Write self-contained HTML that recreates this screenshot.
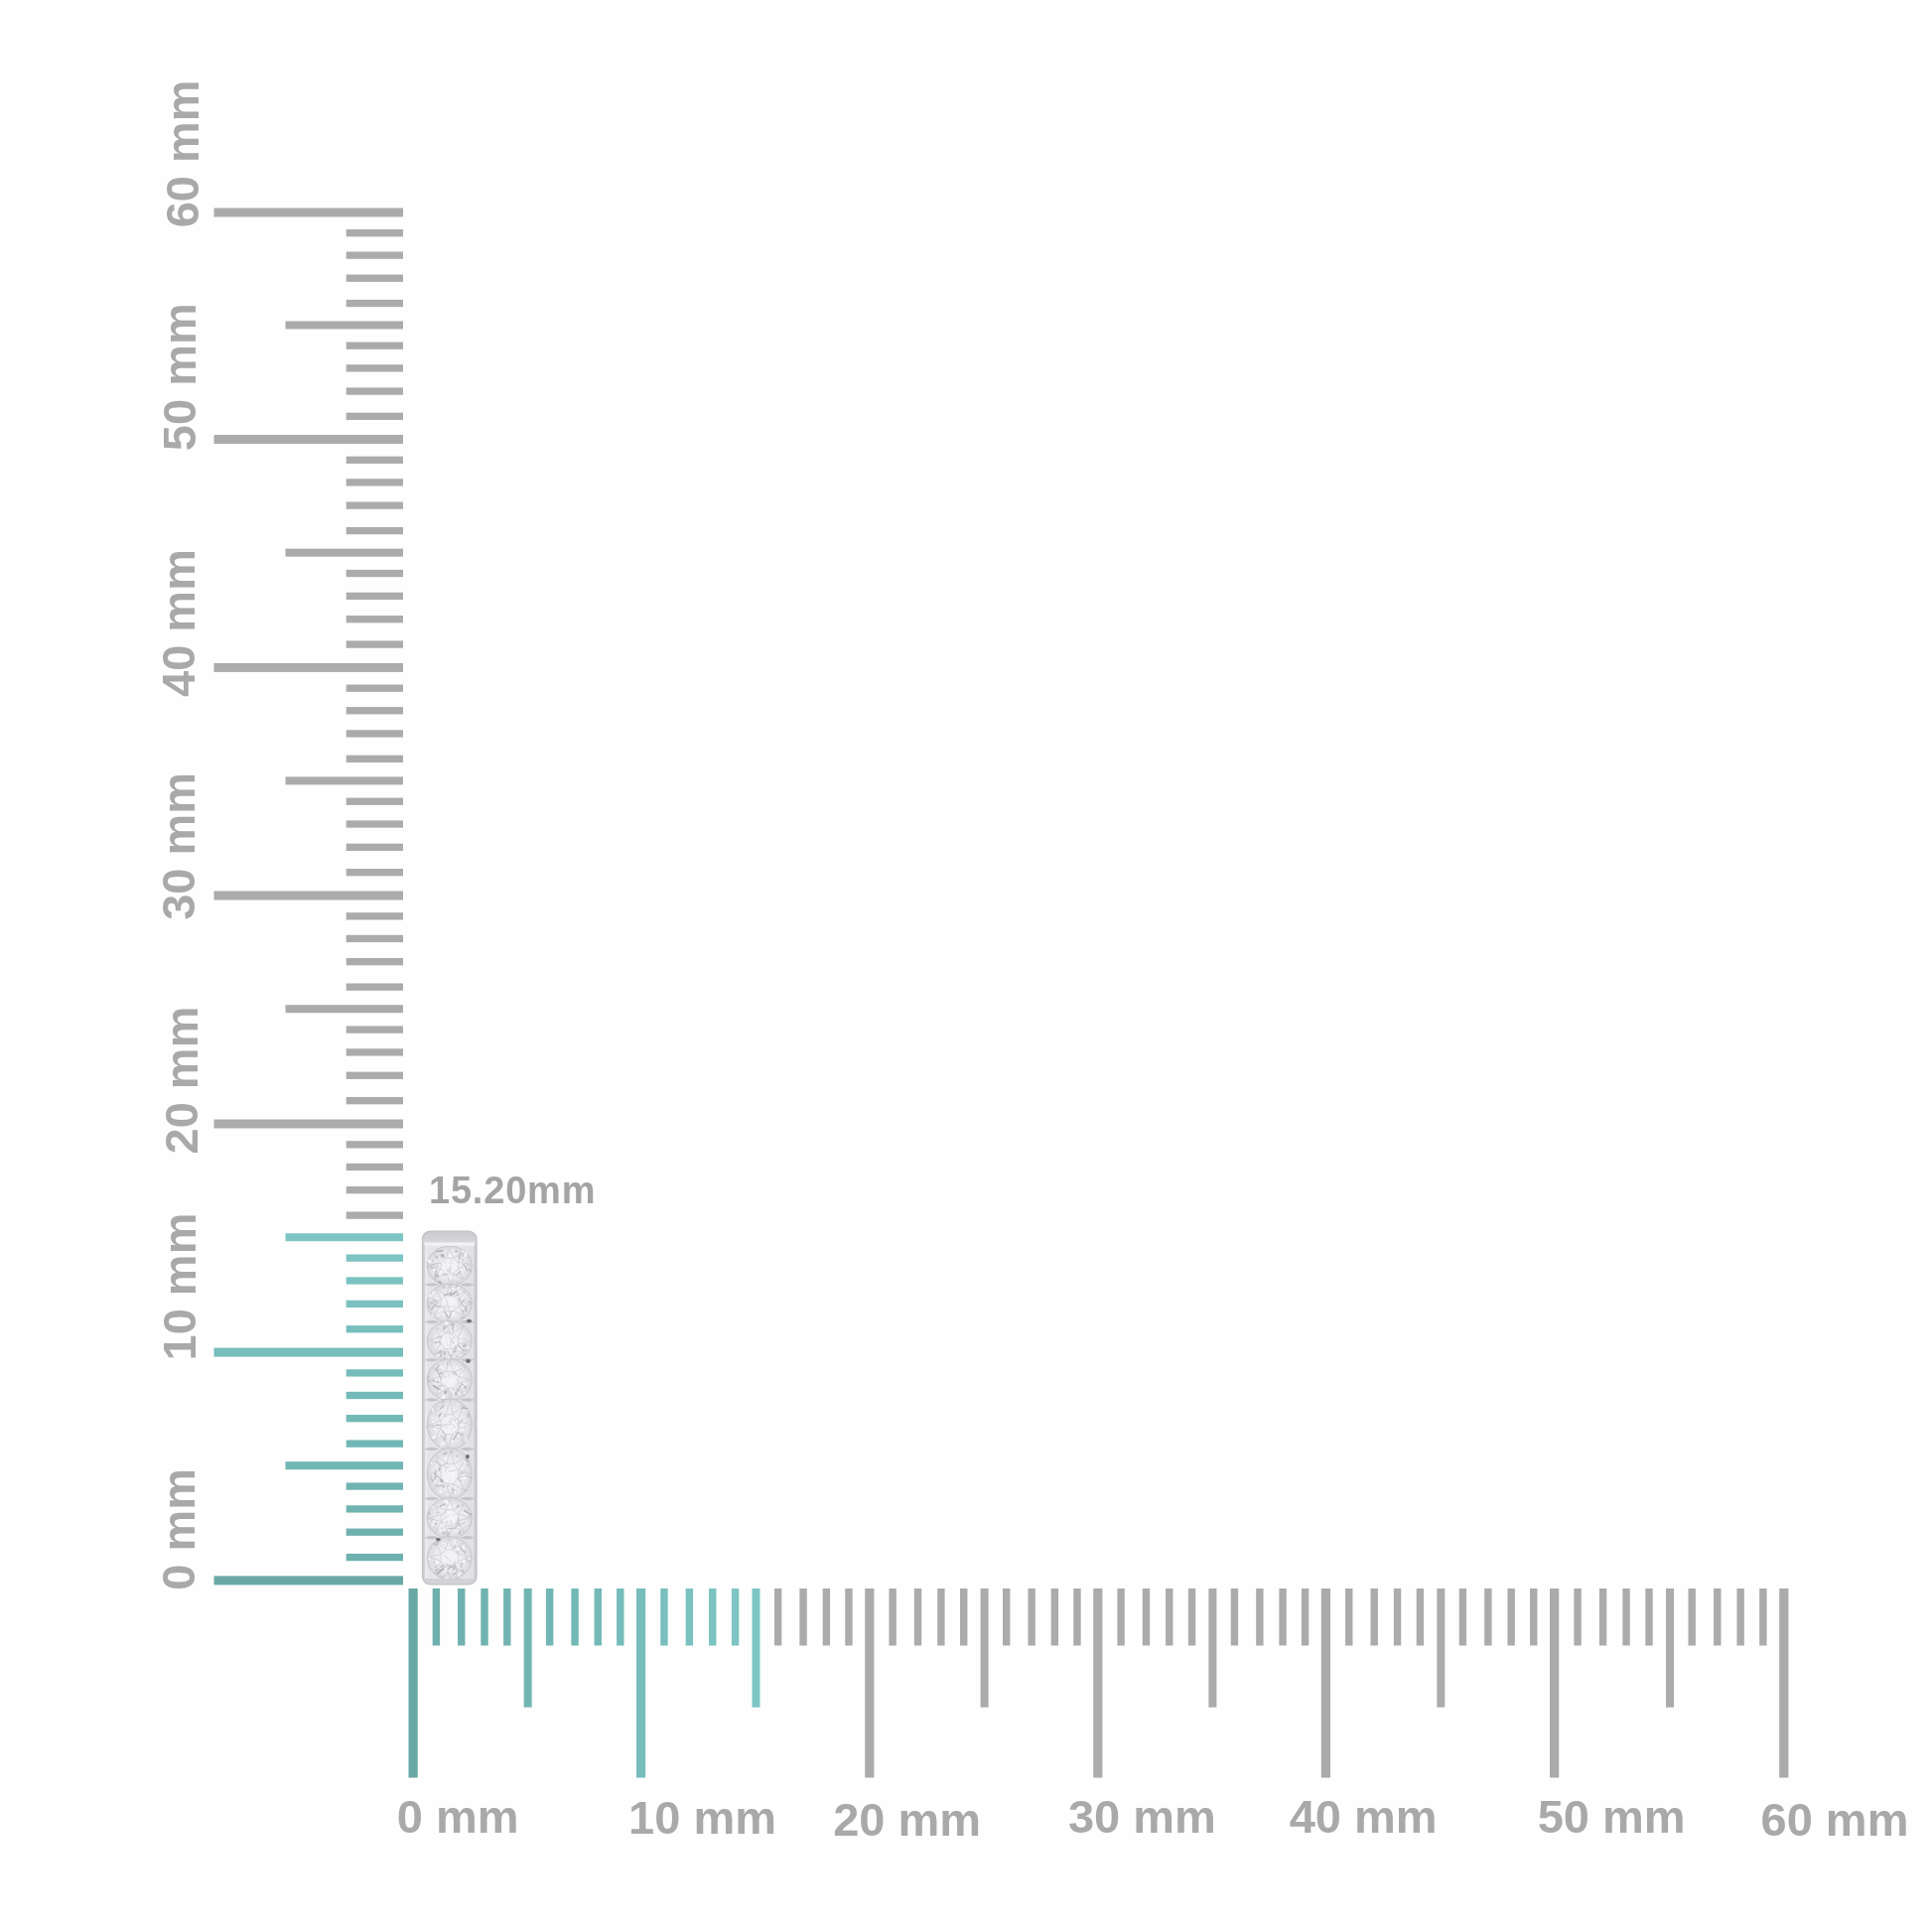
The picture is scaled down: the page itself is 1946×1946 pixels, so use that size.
<!DOCTYPE html>
<html><head><meta charset="utf-8"><style>
html,body{margin:0;padding:0;background:#fefefe;width:1946px;height:1946px;overflow:hidden}
svg{display:block;filter:blur(0.45px)}
.lb{font-family:"Liberation Sans",sans-serif;font-weight:bold;font-size:47px;fill:#a9a9a9}
.mono{font-family:"Liberation Sans",sans-serif;font-weight:bold;font-size:38px;letter-spacing:0.8px;fill:#a4a4a4}
</style></head><body>
<svg width="1946" height="1946" viewBox="0 0 1946 1946">
<rect width="1946" height="1946" fill="#fefefe"/>
<rect x="215.5" y="1587.40" width="190.5" height="9.0" fill="#6aa8a5"/>
<rect x="348.7" y="1564.93" width="57.3" height="7.3" fill="#6eb0ad"/>
<rect x="348.7" y="1539.56" width="57.3" height="7.3" fill="#6fb1af"/>
<rect x="348.7" y="1516.24" width="57.3" height="7.3" fill="#70b3b0"/>
<rect x="348.7" y="1493.42" width="57.3" height="7.3" fill="#71b4b2"/>
<rect x="287.5" y="1472.20" width="118.5" height="8.0" fill="#71b6b3"/>
<rect x="348.7" y="1450.48" width="57.3" height="7.3" fill="#72b7b5"/>
<rect x="348.7" y="1425.06" width="57.3" height="7.3" fill="#73b9b6"/>
<rect x="348.7" y="1401.84" width="57.3" height="7.3" fill="#74bab8"/>
<rect x="348.7" y="1379.27" width="57.3" height="7.3" fill="#75bcba"/>
<rect x="215.5" y="1357.60" width="190.5" height="9.0" fill="#77bdbc"/>
<rect x="348.7" y="1335.10" width="57.3" height="7.3" fill="#78bfbe"/>
<rect x="348.7" y="1309.69" width="57.3" height="7.3" fill="#7ac1bf"/>
<rect x="348.7" y="1286.34" width="57.3" height="7.3" fill="#7bc3c1"/>
<rect x="348.7" y="1263.49" width="57.3" height="7.3" fill="#7dc4c3"/>
<rect x="287.5" y="1242.25" width="118.5" height="8.0" fill="#7ec6c5"/>
<rect x="348.7" y="1220.50" width="57.3" height="7.3" fill="#ababab"/>
<rect x="348.7" y="1195.04" width="57.3" height="7.3" fill="#ababab"/>
<rect x="348.7" y="1171.79" width="57.3" height="7.3" fill="#ababab"/>
<rect x="348.7" y="1149.20" width="57.3" height="7.3" fill="#ababab"/>
<rect x="215.5" y="1127.50" width="190.5" height="9.0" fill="#ababab"/>
<rect x="348.7" y="1105.01" width="57.3" height="7.3" fill="#ababab"/>
<rect x="348.7" y="1079.62" width="57.3" height="7.3" fill="#ababab"/>
<rect x="348.7" y="1056.27" width="57.3" height="7.3" fill="#ababab"/>
<rect x="348.7" y="1033.43" width="57.3" height="7.3" fill="#ababab"/>
<rect x="287.5" y="1012.20" width="118.5" height="8.0" fill="#ababab"/>
<rect x="348.7" y="990.46" width="57.3" height="7.3" fill="#ababab"/>
<rect x="348.7" y="965.02" width="57.3" height="7.3" fill="#ababab"/>
<rect x="348.7" y="941.78" width="57.3" height="7.3" fill="#ababab"/>
<rect x="348.7" y="919.19" width="57.3" height="7.3" fill="#ababab"/>
<rect x="215.5" y="897.50" width="190.5" height="9.0" fill="#ababab"/>
<rect x="348.7" y="875.05" width="57.3" height="7.3" fill="#ababab"/>
<rect x="348.7" y="849.70" width="57.3" height="7.3" fill="#ababab"/>
<rect x="348.7" y="826.40" width="57.3" height="7.3" fill="#ababab"/>
<rect x="348.7" y="803.60" width="57.3" height="7.3" fill="#ababab"/>
<rect x="287.5" y="782.40" width="118.5" height="8.0" fill="#ababab"/>
<rect x="348.7" y="760.70" width="57.3" height="7.3" fill="#ababab"/>
<rect x="348.7" y="735.30" width="57.3" height="7.3" fill="#ababab"/>
<rect x="348.7" y="712.10" width="57.3" height="7.3" fill="#ababab"/>
<rect x="348.7" y="689.55" width="57.3" height="7.3" fill="#ababab"/>
<rect x="215.5" y="667.90" width="190.5" height="9.0" fill="#ababab"/>
<rect x="348.7" y="645.42" width="57.3" height="7.3" fill="#ababab"/>
<rect x="348.7" y="620.04" width="57.3" height="7.3" fill="#ababab"/>
<rect x="348.7" y="596.71" width="57.3" height="7.3" fill="#ababab"/>
<rect x="348.7" y="573.88" width="57.3" height="7.3" fill="#ababab"/>
<rect x="287.5" y="552.65" width="118.5" height="8.0" fill="#ababab"/>
<rect x="348.7" y="530.92" width="57.3" height="7.3" fill="#ababab"/>
<rect x="348.7" y="505.49" width="57.3" height="7.3" fill="#ababab"/>
<rect x="348.7" y="482.26" width="57.3" height="7.3" fill="#ababab"/>
<rect x="348.7" y="459.68" width="57.3" height="7.3" fill="#ababab"/>
<rect x="215.5" y="438.00" width="190.5" height="9.0" fill="#ababab"/>
<rect x="348.7" y="415.66" width="57.3" height="7.3" fill="#ababab"/>
<rect x="348.7" y="390.43" width="57.3" height="7.3" fill="#ababab"/>
<rect x="348.7" y="367.24" width="57.3" height="7.3" fill="#ababab"/>
<rect x="348.7" y="344.55" width="57.3" height="7.3" fill="#ababab"/>
<rect x="287.5" y="323.45" width="118.5" height="8.0" fill="#ababab"/>
<rect x="348.7" y="301.86" width="57.3" height="7.3" fill="#ababab"/>
<rect x="348.7" y="276.58" width="57.3" height="7.3" fill="#ababab"/>
<rect x="348.7" y="253.49" width="57.3" height="7.3" fill="#ababab"/>
<rect x="348.7" y="231.05" width="57.3" height="7.3" fill="#ababab"/>
<rect x="215.5" y="209.50" width="190.5" height="9.0" fill="#ababab"/>
<rect x="411.50" y="1600.0" width="9.2" height="190.6" fill="#6aa8a5"/>
<rect x="435.69" y="1600.0" width="7.4" height="57.5" fill="#6eb0ad"/>
<rect x="461.03" y="1600.0" width="7.4" height="57.5" fill="#6fb1af"/>
<rect x="484.32" y="1600.0" width="7.4" height="57.5" fill="#70b3b0"/>
<rect x="507.11" y="1600.0" width="7.4" height="57.5" fill="#71b4b2"/>
<rect x="527.65" y="1600.0" width="8.0" height="119.7" fill="#71b6b3"/>
<rect x="549.99" y="1600.0" width="7.4" height="57.5" fill="#72b7b5"/>
<rect x="575.38" y="1600.0" width="7.4" height="57.5" fill="#73b9b6"/>
<rect x="598.57" y="1600.0" width="7.4" height="57.5" fill="#74bab8"/>
<rect x="621.11" y="1600.0" width="7.4" height="57.5" fill="#75bcba"/>
<rect x="641.00" y="1600.0" width="9.2" height="190.6" fill="#77bdbc"/>
<rect x="665.26" y="1600.0" width="7.4" height="57.5" fill="#78bfbe"/>
<rect x="690.68" y="1600.0" width="7.4" height="57.5" fill="#7ac1bf"/>
<rect x="714.04" y="1600.0" width="7.4" height="57.5" fill="#7bc3c1"/>
<rect x="736.90" y="1600.0" width="7.4" height="57.5" fill="#7dc4c3"/>
<rect x="757.50" y="1600.0" width="8.0" height="119.7" fill="#7ec6c5"/>
<rect x="779.91" y="1600.0" width="7.4" height="57.5" fill="#ababab"/>
<rect x="805.38" y="1600.0" width="7.4" height="57.5" fill="#ababab"/>
<rect x="828.64" y="1600.0" width="7.4" height="57.5" fill="#ababab"/>
<rect x="851.25" y="1600.0" width="7.4" height="57.5" fill="#ababab"/>
<rect x="871.20" y="1600.0" width="9.2" height="190.6" fill="#ababab"/>
<rect x="895.44" y="1600.0" width="7.4" height="57.5" fill="#ababab"/>
<rect x="920.83" y="1600.0" width="7.4" height="57.5" fill="#ababab"/>
<rect x="944.18" y="1600.0" width="7.4" height="57.5" fill="#ababab"/>
<rect x="967.02" y="1600.0" width="7.4" height="57.5" fill="#ababab"/>
<rect x="987.60" y="1600.0" width="8.0" height="119.7" fill="#ababab"/>
<rect x="1009.99" y="1600.0" width="7.4" height="57.5" fill="#ababab"/>
<rect x="1035.43" y="1600.0" width="7.4" height="57.5" fill="#ababab"/>
<rect x="1058.67" y="1600.0" width="7.4" height="57.5" fill="#ababab"/>
<rect x="1081.26" y="1600.0" width="7.4" height="57.5" fill="#ababab"/>
<rect x="1101.20" y="1600.0" width="9.2" height="190.6" fill="#ababab"/>
<rect x="1125.40" y="1600.0" width="7.4" height="57.5" fill="#ababab"/>
<rect x="1150.75" y="1600.0" width="7.4" height="57.5" fill="#ababab"/>
<rect x="1174.05" y="1600.0" width="7.4" height="57.5" fill="#ababab"/>
<rect x="1196.85" y="1600.0" width="7.4" height="57.5" fill="#ababab"/>
<rect x="1217.40" y="1600.0" width="8.0" height="119.7" fill="#ababab"/>
<rect x="1239.75" y="1600.0" width="7.4" height="57.5" fill="#ababab"/>
<rect x="1265.15" y="1600.0" width="7.4" height="57.5" fill="#ababab"/>
<rect x="1288.35" y="1600.0" width="7.4" height="57.5" fill="#ababab"/>
<rect x="1310.90" y="1600.0" width="7.4" height="57.5" fill="#ababab"/>
<rect x="1330.80" y="1600.0" width="9.2" height="190.6" fill="#ababab"/>
<rect x="1355.06" y="1600.0" width="7.4" height="57.5" fill="#ababab"/>
<rect x="1380.48" y="1600.0" width="7.4" height="57.5" fill="#ababab"/>
<rect x="1403.84" y="1600.0" width="7.4" height="57.5" fill="#ababab"/>
<rect x="1426.70" y="1600.0" width="7.4" height="57.5" fill="#ababab"/>
<rect x="1447.30" y="1600.0" width="8.0" height="119.7" fill="#ababab"/>
<rect x="1469.71" y="1600.0" width="7.4" height="57.5" fill="#ababab"/>
<rect x="1495.18" y="1600.0" width="7.4" height="57.5" fill="#ababab"/>
<rect x="1518.44" y="1600.0" width="7.4" height="57.5" fill="#ababab"/>
<rect x="1541.05" y="1600.0" width="7.4" height="57.5" fill="#ababab"/>
<rect x="1561.00" y="1600.0" width="9.2" height="190.6" fill="#ababab"/>
<rect x="1585.36" y="1600.0" width="7.4" height="57.5" fill="#ababab"/>
<rect x="1610.89" y="1600.0" width="7.4" height="57.5" fill="#ababab"/>
<rect x="1634.35" y="1600.0" width="7.4" height="57.5" fill="#ababab"/>
<rect x="1657.31" y="1600.0" width="7.4" height="57.5" fill="#ababab"/>
<rect x="1678.01" y="1600.0" width="8.0" height="119.7" fill="#ababab"/>
<rect x="1700.51" y="1600.0" width="7.4" height="57.5" fill="#ababab"/>
<rect x="1726.09" y="1600.0" width="7.4" height="57.5" fill="#ababab"/>
<rect x="1749.45" y="1600.0" width="7.4" height="57.5" fill="#ababab"/>
<rect x="1772.16" y="1600.0" width="7.4" height="57.5" fill="#ababab"/>
<rect x="1792.20" y="1600.0" width="9.2" height="190.6" fill="#ababab"/>
<text transform="translate(196.4,1601.8) rotate(-90)" class="lb">0 mm</text>
<text transform="translate(197.3,1370.5) rotate(-90)" class="lb">10 mm</text>
<text transform="translate(199.2,1162.5) rotate(-90)" class="lb">20 mm</text>
<text transform="translate(196.4,926.8) rotate(-90)" class="lb">30 mm</text>
<text transform="translate(196.4,702.0) rotate(-90)" class="lb">40 mm</text>
<text transform="translate(197.3,454.2) rotate(-90)" class="lb">50 mm</text>
<text transform="translate(199.6,229.3) rotate(-90)" class="lb">60 mm</text>
<text x="399.7" y="1845.6" class="lb">0 mm</text>
<text x="633.1" y="1846.7" class="lb">10 mm</text>
<text x="839.2" y="1849.2" class="lb">20 mm</text>
<text x="1075.9" y="1845.6" class="lb">30 mm</text>
<text x="1298.7" y="1846.3" class="lb">40 mm</text>
<text x="1548.7" y="1846.3" class="lb">50 mm</text>
<text x="1773.5" y="1848.7" class="lb">60 mm</text>
<text x="432" y="1212" class="mono">15.20mm</text>
<defs>
<linearGradient id="barg" x1="0" x2="1" y1="0" y2="0">
<stop offset="0" stop-color="#c6c6cb"/><stop offset="0.09" stop-color="#e4e4e7"/>
<stop offset="0.5" stop-color="#ececef"/><stop offset="0.91" stop-color="#e0e0e4"/>
<stop offset="1" stop-color="#c4c4c9"/></linearGradient>
<radialGradient id="stg" cx="0.5" cy="0.5" r="0.5">
<stop offset="0" stop-color="#f5f5f7"/><stop offset="0.65" stop-color="#ebebee"/>
<stop offset="1" stop-color="#d9d9dd"/></radialGradient>
<linearGradient id="capg" x1="0" x2="0" y1="0" y2="1">
<stop offset="0" stop-color="#c9c9ce"/><stop offset="0.75" stop-color="#d3d3d8"/>
<stop offset="1" stop-color="#dadade"/></linearGradient>
<clipPath id="barclip"><rect x="425.5" y="1240.0" width="54.5" height="356.0" rx="8"/></clipPath>
</defs>
<g clip-path="url(#barclip)">
<rect x="425.5" y="1240.0" width="54.5" height="356.0" fill="url(#barg)"/>
<rect x="428.0" y="1254.0" width="2.5" height="336.0" fill="#eeeef0" opacity="0.8"/>
<rect x="475.0" y="1254.0" width="2" height="336.0" fill="#e6e6ea" opacity="0.7"/>
<ellipse cx="452.8" cy="1275.0" rx="22.5" ry="20.0" fill="url(#stg)" stroke="#c6c6cb" stroke-width="1"/>
<ellipse cx="437.5" cy="1279.2" rx="2.3" ry="0.8" transform="rotate(81 437.5 1279.2)" fill="#f7f7fb" opacity="0.85"/>
<ellipse cx="457.7" cy="1262.6" rx="1.3" ry="0.7" transform="rotate(17 457.7 1262.6)" fill="#f2f2f6" opacity="0.85"/>
<ellipse cx="459.3" cy="1260.3" rx="2.0" ry="1.2" transform="rotate(174 459.3 1260.3)" fill="#c3c3c7" opacity="0.85"/>
<ellipse cx="454.2" cy="1276.9" rx="2.4" ry="1.2" transform="rotate(6 454.2 1276.9)" fill="#f0f0f4" opacity="0.85"/>
<ellipse cx="454.9" cy="1264.3" rx="2.0" ry="1.1" transform="rotate(93 454.9 1264.3)" fill="#f3f3f7" opacity="0.85"/>
<ellipse cx="445.2" cy="1264.0" rx="2.3" ry="1.3" transform="rotate(179 445.2 1264.0)" fill="#cdcdd1" opacity="0.85"/>
<ellipse cx="448.7" cy="1283.4" rx="1.0" ry="0.7" transform="rotate(101 448.7 1283.4)" fill="#aeaeb2" opacity="0.85"/>
<ellipse cx="451.4" cy="1279.8" rx="2.5" ry="0.7" transform="rotate(38 451.4 1279.8)" fill="#aaaaae" opacity="0.85"/>
<ellipse cx="440.0" cy="1286.3" rx="2.2" ry="0.9" transform="rotate(113 440.0 1286.3)" fill="#f9f9fd" opacity="0.85"/>
<ellipse cx="463.3" cy="1280.7" rx="1.0" ry="1.3" transform="rotate(166 463.3 1280.7)" fill="#fcfcff" opacity="0.85"/>
<ellipse cx="467.3" cy="1275.9" rx="1.6" ry="0.8" transform="rotate(101 467.3 1275.9)" fill="#fafafe" opacity="0.85"/>
<ellipse cx="451.9" cy="1268.2" rx="2.6" ry="0.6" transform="rotate(71 451.9 1268.2)" fill="#f1f1f5" opacity="0.85"/>
<ellipse cx="466.7" cy="1260.9" rx="1.1" ry="1.6" transform="rotate(4 466.7 1260.9)" fill="#fefeff" opacity="0.85"/>
<ellipse cx="439.8" cy="1266.4" rx="1.3" ry="1.4" transform="rotate(38 439.8 1266.4)" fill="#b3b3b7" opacity="0.85"/>
<ellipse cx="447.3" cy="1284.1" rx="1.9" ry="0.6" transform="rotate(38 447.3 1284.1)" fill="#afafb3" opacity="0.85"/>
<ellipse cx="441.4" cy="1286.0" rx="1.0" ry="1.0" transform="rotate(150 441.4 1286.0)" fill="#c8c8cc" opacity="0.85"/>
<ellipse cx="444.5" cy="1267.4" rx="1.1" ry="1.2" transform="rotate(131 444.5 1267.4)" fill="#b9b9bd" opacity="0.85"/>
<ellipse cx="436.1" cy="1269.8" rx="1.6" ry="0.7" transform="rotate(109 436.1 1269.8)" fill="#c8c8cc" opacity="0.85"/>
<ellipse cx="473.2" cy="1279.5" rx="2.3" ry="1.2" transform="rotate(46 473.2 1279.5)" fill="#c3c3c7" opacity="0.85"/>
<ellipse cx="450.4" cy="1282.7" rx="1.7" ry="1.3" transform="rotate(23 450.4 1282.7)" fill="#f1f1f5" opacity="0.85"/>
<ellipse cx="448.5" cy="1271.6" rx="0.9" ry="1.0" transform="rotate(135 448.5 1271.6)" fill="#b7b7bb" opacity="0.85"/>
<ellipse cx="452.8" cy="1279.1" rx="1.0" ry="1.0" transform="rotate(103 452.8 1279.1)" fill="#cbcbcf" opacity="0.85"/>
<ellipse cx="469.2" cy="1263.1" rx="2.5" ry="1.2" transform="rotate(94 469.2 1263.1)" fill="#fbfbff" opacity="0.85"/>
<ellipse cx="465.9" cy="1269.0" rx="0.8" ry="1.2" transform="rotate(173 465.9 1269.0)" fill="#bdbdc1" opacity="0.85"/>
<ellipse cx="434.6" cy="1276.8" rx="1.8" ry="1.3" transform="rotate(14 434.6 1276.8)" fill="#aeaeb2" opacity="0.85"/>
<ellipse cx="467.7" cy="1265.4" rx="1.4" ry="0.7" transform="rotate(173 467.7 1265.4)" fill="#fcfcff" opacity="0.85"/>
<ellipse cx="446.9" cy="1275.9" rx="1.7" ry="0.6" transform="rotate(5 446.9 1275.9)" fill="#fcfcff" opacity="0.85"/>
<ellipse cx="445.9" cy="1265.0" rx="2.0" ry="1.6" transform="rotate(14 445.9 1265.0)" fill="#aeaeb2" opacity="0.85"/>
<ellipse cx="466.1" cy="1263.9" rx="2.3" ry="0.7" transform="rotate(79 466.1 1263.9)" fill="#c7c7cb" opacity="0.85"/>
<ellipse cx="452.8" cy="1271.7" rx="2.5" ry="0.7" transform="rotate(4 452.8 1271.7)" fill="#f7f7fb" opacity="0.85"/>
<ellipse cx="456.0" cy="1259.8" rx="1.3" ry="1.3" transform="rotate(2 456.0 1259.8)" fill="#fefeff" opacity="0.85"/>
<ellipse cx="455.4" cy="1282.5" rx="1.7" ry="0.8" transform="rotate(167 455.4 1282.5)" fill="#fafafe" opacity="0.85"/>
<ellipse cx="444.0" cy="1280.4" rx="2.4" ry="1.5" transform="rotate(145 444.0 1280.4)" fill="#fcfcff" opacity="0.85"/>
<ellipse cx="440.6" cy="1284.6" rx="1.4" ry="1.5" transform="rotate(24 440.6 1284.6)" fill="#b2b2b6" opacity="0.85"/>
<ellipse cx="458.0" cy="1276.2" rx="1.6" ry="0.9" transform="rotate(30 458.0 1276.2)" fill="#fdfdff" opacity="0.85"/>
<ellipse cx="455.9" cy="1286.9" rx="2.1" ry="1.4" transform="rotate(121 455.9 1286.9)" fill="#f7f7fb" opacity="0.85"/>
<ellipse cx="444.2" cy="1267.4" rx="0.9" ry="1.3" transform="rotate(157 444.2 1267.4)" fill="#f4f4f8" opacity="0.85"/>
<ellipse cx="442.1" cy="1270.5" rx="1.5" ry="0.8" transform="rotate(115 442.1 1270.5)" fill="#f0f0f4" opacity="0.85"/>
<ellipse cx="454.1" cy="1265.3" rx="1.9" ry="1.0" transform="rotate(8 454.1 1265.3)" fill="#fcfcff" opacity="0.85"/>
<ellipse cx="441.0" cy="1263.8" rx="1.2" ry="1.1" transform="rotate(123 441.0 1263.8)" fill="#f1f1f5" opacity="0.85"/>
<ellipse cx="453.8" cy="1276.8" rx="1.2" ry="1.4" transform="rotate(7 453.8 1276.8)" fill="#fbfbff" opacity="0.85"/>
<ellipse cx="432.6" cy="1270.4" rx="2.3" ry="1.3" transform="rotate(29 432.6 1270.4)" fill="#fcfcff" opacity="0.85"/>
<ellipse cx="455.0" cy="1287.0" rx="1.6" ry="1.2" transform="rotate(23 455.0 1287.0)" fill="#f6f6fa" opacity="0.85"/>
<ellipse cx="463.9" cy="1268.7" rx="2.3" ry="0.9" transform="rotate(90 463.9 1268.7)" fill="#fefeff" opacity="0.85"/>
<ellipse cx="443.0" cy="1291.7" rx="2.4" ry="1.6" transform="rotate(38 443.0 1291.7)" fill="#b1b1b5" opacity="0.85"/>
<line x1="466.7" y1="1273.2" x2="470.8" y2="1279.8" stroke="#b0b0b4" stroke-width="1.1" stroke-linecap="round"/>
<line x1="463.8" y1="1280.6" x2="459.1" y2="1284.8" stroke="#ceced2" stroke-width="1.7" stroke-linecap="round"/>
<line x1="456.3" y1="1290.5" x2="461.9" y2="1291.1" stroke="#d1d1d5" stroke-width="1.1" stroke-linecap="round"/>
<line x1="454.5" y1="1268.8" x2="454.3" y2="1272.7" stroke="#d0d0d4" stroke-width="1.6" stroke-linecap="round"/>
<line x1="445.9" y1="1259.7" x2="440.0" y2="1260.6" stroke="#b4b4b8" stroke-width="1.6" stroke-linecap="round"/>
<line x1="439.5" y1="1279.7" x2="438.0" y2="1287.6" stroke="#b9b9bd" stroke-width="1.3" stroke-linecap="round"/>
<line x1="460.7" y1="1264.4" x2="462.5" y2="1269.0" stroke="#d6d6da" stroke-width="1.0" stroke-linecap="round"/>
<line x1="463.9" y1="1261.5" x2="462.5" y2="1267.5" stroke="#bbbbbf" stroke-width="1.2" stroke-linecap="round"/>
<line x1="453.8" y1="1275.8" x2="453.2" y2="1281.0" stroke="#b1b1b5" stroke-width="1.3" stroke-linecap="round"/>
<line x1="438.9" y1="1283.9" x2="439.1" y2="1290.3" stroke="#b9b9bd" stroke-width="0.9" stroke-linecap="round"/>
<line x1="440.9" y1="1272.4" x2="432.4" y2="1274.4" stroke="#c0c0c4" stroke-width="1.0" stroke-linecap="round"/>
<line x1="441.7" y1="1275.4" x2="433.4" y2="1277.1" stroke="#cdcdd1" stroke-width="1.3" stroke-linecap="round"/>
<line x1="462.4" y1="1281.9" x2="464.6" y2="1284.3" stroke="#b0b0b4" stroke-width="0.8" stroke-linecap="round"/>
<line x1="454.0" y1="1276.5" x2="450.9" y2="1280.1" stroke="#bebec2" stroke-width="1.4" stroke-linecap="round"/>
<polygon points="461.5,1278.2 456.4,1282.8 449.2,1282.8 444.1,1278.2 444.1,1271.8 449.2,1267.2 456.4,1267.2 461.5,1271.8" fill="#f2f2f4" fill-opacity="0.55" stroke="#cbcbd0" stroke-width="0.7"/>
<path d="M461.8,1277.6L474.3,1273.5L461.2,1271.2M456.0,1282.9L467.4,1289.2L461.4,1278.6M449.9,1283.0L454.4,1294.1L457.1,1282.5M444.1,1278.2L437.5,1288.5L449.2,1282.8M443.9,1272.2L431.2,1276.0L444.3,1278.6M448.7,1267.4L436.6,1262.3L443.9,1272.3M456.5,1267.3L452.9,1255.8L449.2,1267.2M461.5,1271.7L467.9,1261.3L456.3,1267.2" stroke="#cdcdd2" stroke-width="0.8" fill="none"/>
<ellipse cx="452.8" cy="1312.7" rx="22.5" ry="19.7" fill="url(#stg)" stroke="#c6c6cb" stroke-width="1"/>
<ellipse cx="443.0" cy="1321.2" rx="2.4" ry="1.1" transform="rotate(97 443.0 1321.2)" fill="#f2f2f6" opacity="0.85"/>
<ellipse cx="454.8" cy="1321.2" rx="1.2" ry="1.3" transform="rotate(154 454.8 1321.2)" fill="#f9f9fd" opacity="0.85"/>
<ellipse cx="460.3" cy="1296.2" rx="1.2" ry="1.4" transform="rotate(160 460.3 1296.2)" fill="#bebec2" opacity="0.85"/>
<ellipse cx="455.1" cy="1318.2" rx="1.3" ry="0.7" transform="rotate(131 455.1 1318.2)" fill="#f2f2f6" opacity="0.85"/>
<ellipse cx="459.7" cy="1302.1" rx="1.9" ry="1.4" transform="rotate(36 459.7 1302.1)" fill="#f2f2f6" opacity="0.85"/>
<ellipse cx="466.1" cy="1320.7" rx="1.7" ry="1.4" transform="rotate(21 466.1 1320.7)" fill="#c1c1c5" opacity="0.85"/>
<ellipse cx="435.1" cy="1312.4" rx="0.8" ry="1.4" transform="rotate(87 435.1 1312.4)" fill="#aeaeb2" opacity="0.85"/>
<ellipse cx="437.4" cy="1301.1" rx="1.2" ry="1.4" transform="rotate(33 437.4 1301.1)" fill="#f3f3f7" opacity="0.85"/>
<ellipse cx="473.3" cy="1311.6" rx="2.0" ry="0.7" transform="rotate(24 473.3 1311.6)" fill="#adadb1" opacity="0.85"/>
<ellipse cx="463.8" cy="1319.4" rx="1.9" ry="0.6" transform="rotate(77 463.8 1319.4)" fill="#f5f5f9" opacity="0.85"/>
<ellipse cx="446.9" cy="1296.3" rx="1.5" ry="1.5" transform="rotate(65 446.9 1296.3)" fill="#c7c7cb" opacity="0.85"/>
<ellipse cx="447.6" cy="1309.2" rx="2.2" ry="1.3" transform="rotate(161 447.6 1309.2)" fill="#f5f5f9" opacity="0.85"/>
<ellipse cx="463.7" cy="1301.3" rx="1.9" ry="0.9" transform="rotate(34 463.7 1301.3)" fill="#f9f9fd" opacity="0.85"/>
<ellipse cx="453.7" cy="1302.8" rx="1.5" ry="1.5" transform="rotate(147 453.7 1302.8)" fill="#b4b4b8" opacity="0.85"/>
<ellipse cx="465.8" cy="1302.0" rx="1.2" ry="0.8" transform="rotate(33 465.8 1302.0)" fill="#fcfcff" opacity="0.85"/>
<ellipse cx="456.2" cy="1302.9" rx="2.4" ry="0.6" transform="rotate(178 456.2 1302.9)" fill="#c0c0c4" opacity="0.85"/>
<ellipse cx="449.8" cy="1330.9" rx="1.8" ry="1.1" transform="rotate(119 449.8 1330.9)" fill="#b7b7bb" opacity="0.85"/>
<ellipse cx="436.4" cy="1324.7" rx="1.5" ry="1.2" transform="rotate(22 436.4 1324.7)" fill="#fbfbff" opacity="0.85"/>
<ellipse cx="458.1" cy="1316.8" rx="0.9" ry="0.8" transform="rotate(72 458.1 1316.8)" fill="#c6c6ca" opacity="0.85"/>
<ellipse cx="448.0" cy="1316.8" rx="1.7" ry="1.6" transform="rotate(99 448.0 1316.8)" fill="#bfbfc3" opacity="0.85"/>
<ellipse cx="433.4" cy="1305.0" rx="1.8" ry="1.3" transform="rotate(116 433.4 1305.0)" fill="#fcfcff" opacity="0.85"/>
<ellipse cx="465.6" cy="1309.5" rx="1.1" ry="1.1" transform="rotate(85 465.6 1309.5)" fill="#f6f6fa" opacity="0.85"/>
<ellipse cx="448.8" cy="1309.8" rx="1.5" ry="0.9" transform="rotate(51 448.8 1309.8)" fill="#f6f6fa" opacity="0.85"/>
<ellipse cx="438.2" cy="1310.2" rx="2.1" ry="0.6" transform="rotate(119 438.2 1310.2)" fill="#bcbcc0" opacity="0.85"/>
<ellipse cx="455.1" cy="1298.5" rx="1.5" ry="1.5" transform="rotate(136 455.1 1298.5)" fill="#f6f6fa" opacity="0.85"/>
<ellipse cx="452.8" cy="1308.5" rx="2.4" ry="1.0" transform="rotate(13 452.8 1308.5)" fill="#f5f5f9" opacity="0.85"/>
<ellipse cx="431.9" cy="1315.3" rx="2.3" ry="1.5" transform="rotate(18 431.9 1315.3)" fill="#cbcbcf" opacity="0.85"/>
<ellipse cx="465.7" cy="1327.1" rx="1.6" ry="0.7" transform="rotate(9 465.7 1327.1)" fill="#b1b1b5" opacity="0.85"/>
<ellipse cx="461.0" cy="1304.1" rx="2.0" ry="1.1" transform="rotate(80 461.0 1304.1)" fill="#c1c1c5" opacity="0.85"/>
<ellipse cx="451.6" cy="1326.9" rx="2.3" ry="0.7" transform="rotate(134 451.6 1326.9)" fill="#fcfcff" opacity="0.85"/>
<ellipse cx="450.9" cy="1319.2" rx="2.2" ry="1.2" transform="rotate(161 450.9 1319.2)" fill="#f8f8fc" opacity="0.85"/>
<ellipse cx="445.7" cy="1320.2" rx="1.1" ry="0.9" transform="rotate(126 445.7 1320.2)" fill="#f9f9fd" opacity="0.85"/>
<ellipse cx="454.2" cy="1330.9" rx="2.4" ry="0.6" transform="rotate(165 454.2 1330.9)" fill="#fafafe" opacity="0.85"/>
<ellipse cx="463.1" cy="1316.3" rx="1.2" ry="0.9" transform="rotate(7 463.1 1316.3)" fill="#f9f9fd" opacity="0.85"/>
<ellipse cx="453.5" cy="1294.8" rx="1.5" ry="1.1" transform="rotate(114 453.5 1294.8)" fill="#b9b9bd" opacity="0.85"/>
<ellipse cx="455.9" cy="1323.3" rx="2.2" ry="1.0" transform="rotate(157 455.9 1323.3)" fill="#fdfdff" opacity="0.85"/>
<ellipse cx="461.4" cy="1297.3" rx="1.3" ry="1.4" transform="rotate(76 461.4 1297.3)" fill="#f7f7fb" opacity="0.85"/>
<ellipse cx="441.1" cy="1323.8" rx="2.2" ry="1.4" transform="rotate(52 441.1 1323.8)" fill="#f5f5f9" opacity="0.85"/>
<ellipse cx="459.8" cy="1326.5" rx="0.9" ry="0.7" transform="rotate(158 459.8 1326.5)" fill="#f7f7fb" opacity="0.85"/>
<ellipse cx="439.1" cy="1307.6" rx="0.8" ry="0.9" transform="rotate(148 439.1 1307.6)" fill="#f4f4f8" opacity="0.85"/>
<ellipse cx="466.9" cy="1305.0" rx="2.0" ry="0.9" transform="rotate(130 466.9 1305.0)" fill="#f7f7fb" opacity="0.85"/>
<ellipse cx="460.8" cy="1321.5" rx="1.4" ry="1.0" transform="rotate(163 460.8 1321.5)" fill="#f5f5f9" opacity="0.85"/>
<ellipse cx="436.0" cy="1302.7" rx="2.2" ry="0.9" transform="rotate(79 436.0 1302.7)" fill="#f4f4f8" opacity="0.85"/>
<ellipse cx="447.2" cy="1323.5" rx="1.0" ry="1.4" transform="rotate(93 447.2 1323.5)" fill="#fefeff" opacity="0.85"/>
<ellipse cx="470.2" cy="1315.0" rx="1.8" ry="1.4" transform="rotate(35 470.2 1315.0)" fill="#fcfcff" opacity="0.85"/>
<line x1="435.9" y1="1308.8" x2="441.3" y2="1312.2" stroke="#ccccd0" stroke-width="1.7" stroke-linecap="round"/>
<line x1="452.2" y1="1315.1" x2="451.4" y2="1321.2" stroke="#d3d3d7" stroke-width="1.1" stroke-linecap="round"/>
<line x1="470.2" y1="1314.8" x2="468.8" y2="1320.2" stroke="#c2c2c6" stroke-width="1.6" stroke-linecap="round"/>
<line x1="457.5" y1="1315.1" x2="450.5" y2="1317.4" stroke="#b4b4b8" stroke-width="0.8" stroke-linecap="round"/>
<line x1="449.4" y1="1308.4" x2="451.3" y2="1316.1" stroke="#bdbdc1" stroke-width="1.3" stroke-linecap="round"/>
<line x1="462.1" y1="1307.4" x2="464.7" y2="1312.5" stroke="#c4c4c8" stroke-width="1.5" stroke-linecap="round"/>
<line x1="438.8" y1="1313.2" x2="434.3" y2="1319.0" stroke="#b1b1b5" stroke-width="1.2" stroke-linecap="round"/>
<line x1="460.0" y1="1300.6" x2="453.3" y2="1305.2" stroke="#b4b4b8" stroke-width="1.7" stroke-linecap="round"/>
<line x1="467.6" y1="1309.2" x2="463.8" y2="1314.0" stroke="#b6b6ba" stroke-width="1.2" stroke-linecap="round"/>
<line x1="446.4" y1="1315.8" x2="438.9" y2="1316.0" stroke="#c7c7cb" stroke-width="1.5" stroke-linecap="round"/>
<line x1="447.7" y1="1322.1" x2="451.7" y2="1326.8" stroke="#b2b2b6" stroke-width="1.3" stroke-linecap="round"/>
<line x1="451.5" y1="1303.5" x2="447.7" y2="1304.5" stroke="#b2b2b6" stroke-width="1.6" stroke-linecap="round"/>
<line x1="466.0" y1="1314.0" x2="470.3" y2="1320.4" stroke="#bbbbbf" stroke-width="1.0" stroke-linecap="round"/>
<line x1="454.7" y1="1320.7" x2="452.5" y2="1327.6" stroke="#bdbdc1" stroke-width="1.2" stroke-linecap="round"/>
<polygon points="461.5,1315.9 456.4,1320.3 449.2,1320.3 444.1,1315.9 444.1,1309.5 449.2,1305.1 456.4,1305.1 461.5,1309.5" fill="#f2f2f4" fill-opacity="0.55" stroke="#cbcbd0" stroke-width="0.7"/>
<path d="M461.2,1316.5L474.3,1314.2L461.8,1310.1M456.6,1320.3L468.4,1325.8L461.6,1315.7M448.5,1320.1L451.0,1331.5L455.7,1320.6M443.8,1315.2L436.3,1324.9L448.4,1320.0M444.2,1309.3L431.2,1312.2L444.0,1315.7M450.0,1304.8L438.9,1298.2L444.4,1308.9M456.5,1305.1L453.0,1293.8L449.3,1305.0M461.8,1310.1L469.1,1300.3L457.0,1305.3" stroke="#cdcdd2" stroke-width="0.8" fill="none"/>
<ellipse cx="452.8" cy="1350.6" rx="22.5" ry="20.1" fill="url(#stg)" stroke="#c6c6cb" stroke-width="1"/>
<ellipse cx="439.3" cy="1351.7" rx="2.5" ry="1.1" transform="rotate(99 439.3 1351.7)" fill="#fafafe" opacity="0.85"/>
<ellipse cx="453.7" cy="1354.7" rx="2.6" ry="1.4" transform="rotate(144 453.7 1354.7)" fill="#fcfcff" opacity="0.85"/>
<ellipse cx="455.7" cy="1333.8" rx="2.4" ry="1.5" transform="rotate(161 455.7 1333.8)" fill="#b9b9bd" opacity="0.85"/>
<ellipse cx="442.7" cy="1353.5" rx="1.1" ry="0.9" transform="rotate(28 442.7 1353.5)" fill="#fdfdff" opacity="0.85"/>
<ellipse cx="451.6" cy="1368.4" rx="1.9" ry="1.1" transform="rotate(134 451.6 1368.4)" fill="#fafafe" opacity="0.85"/>
<ellipse cx="468.1" cy="1355.3" rx="2.3" ry="1.4" transform="rotate(148 468.1 1355.3)" fill="#b7b7bb" opacity="0.85"/>
<ellipse cx="462.4" cy="1355.5" rx="2.0" ry="0.7" transform="rotate(160 462.4 1355.5)" fill="#f1f1f5" opacity="0.85"/>
<ellipse cx="452.7" cy="1336.4" rx="1.6" ry="1.5" transform="rotate(142 452.7 1336.4)" fill="#f0f0f4" opacity="0.85"/>
<ellipse cx="469.1" cy="1360.0" rx="1.7" ry="1.5" transform="rotate(74 469.1 1360.0)" fill="#ccccd0" opacity="0.85"/>
<ellipse cx="464.5" cy="1348.1" rx="1.6" ry="1.3" transform="rotate(55 464.5 1348.1)" fill="#f8f8fc" opacity="0.85"/>
<ellipse cx="441.5" cy="1362.8" rx="2.1" ry="1.4" transform="rotate(122 441.5 1362.8)" fill="#c3c3c7" opacity="0.85"/>
<ellipse cx="463.1" cy="1359.4" rx="1.2" ry="1.2" transform="rotate(128 463.1 1359.4)" fill="#fbfbff" opacity="0.85"/>
<ellipse cx="450.7" cy="1351.1" rx="2.4" ry="0.8" transform="rotate(129 450.7 1351.1)" fill="#fcfcff" opacity="0.85"/>
<ellipse cx="438.4" cy="1337.2" rx="1.8" ry="0.7" transform="rotate(136 438.4 1337.2)" fill="#f5f5f9" opacity="0.85"/>
<ellipse cx="457.7" cy="1361.4" rx="1.8" ry="1.3" transform="rotate(170 457.7 1361.4)" fill="#bdbdc1" opacity="0.85"/>
<ellipse cx="443.3" cy="1365.7" rx="1.0" ry="1.2" transform="rotate(112 443.3 1365.7)" fill="#b3b3b7" opacity="0.85"/>
<ellipse cx="456.8" cy="1358.1" rx="1.0" ry="0.8" transform="rotate(107 456.8 1358.1)" fill="#c7c7cb" opacity="0.85"/>
<ellipse cx="457.0" cy="1356.2" rx="2.3" ry="1.5" transform="rotate(61 457.0 1356.2)" fill="#f1f1f5" opacity="0.85"/>
<ellipse cx="459.0" cy="1357.2" rx="2.5" ry="1.2" transform="rotate(87 459.0 1357.2)" fill="#c2c2c6" opacity="0.85"/>
<ellipse cx="450.4" cy="1335.7" rx="1.9" ry="0.6" transform="rotate(119 450.4 1335.7)" fill="#b9b9bd" opacity="0.85"/>
<ellipse cx="446.7" cy="1360.3" rx="1.2" ry="0.9" transform="rotate(100 446.7 1360.3)" fill="#f1f1f5" opacity="0.85"/>
<ellipse cx="451.0" cy="1356.5" rx="2.4" ry="1.1" transform="rotate(138 451.0 1356.5)" fill="#f4f4f8" opacity="0.85"/>
<ellipse cx="443.7" cy="1361.4" rx="1.7" ry="1.3" transform="rotate(178 443.7 1361.4)" fill="#b6b6ba" opacity="0.85"/>
<ellipse cx="457.7" cy="1343.2" rx="2.2" ry="0.7" transform="rotate(119 457.7 1343.2)" fill="#fafafe" opacity="0.85"/>
<ellipse cx="439.1" cy="1352.3" rx="1.5" ry="1.1" transform="rotate(167 439.1 1352.3)" fill="#afafb3" opacity="0.85"/>
<ellipse cx="467.8" cy="1363.8" rx="0.9" ry="1.5" transform="rotate(98 467.8 1363.8)" fill="#ccccd0" opacity="0.85"/>
<ellipse cx="461.8" cy="1365.0" rx="1.0" ry="1.4" transform="rotate(108 461.8 1365.0)" fill="#f5f5f9" opacity="0.85"/>
<ellipse cx="447.9" cy="1368.1" rx="1.1" ry="1.1" transform="rotate(150 447.9 1368.1)" fill="#c1c1c5" opacity="0.85"/>
<ellipse cx="456.2" cy="1352.1" rx="2.0" ry="1.3" transform="rotate(55 456.2 1352.1)" fill="#b2b2b6" opacity="0.85"/>
<ellipse cx="440.7" cy="1360.5" rx="1.5" ry="0.6" transform="rotate(29 440.7 1360.5)" fill="#f0f0f4" opacity="0.85"/>
<ellipse cx="445.6" cy="1349.4" rx="1.3" ry="1.2" transform="rotate(94 445.6 1349.4)" fill="#f5f5f9" opacity="0.85"/>
<ellipse cx="444.4" cy="1363.9" rx="1.7" ry="0.7" transform="rotate(73 444.4 1363.9)" fill="#b3b3b7" opacity="0.85"/>
<ellipse cx="441.4" cy="1365.5" rx="2.2" ry="1.1" transform="rotate(136 441.4 1365.5)" fill="#f9f9fd" opacity="0.85"/>
<ellipse cx="472.4" cy="1350.0" rx="1.0" ry="0.7" transform="rotate(149 472.4 1350.0)" fill="#f6f6fa" opacity="0.85"/>
<ellipse cx="464.2" cy="1346.4" rx="1.4" ry="0.7" transform="rotate(163 464.2 1346.4)" fill="#f6f6fa" opacity="0.85"/>
<ellipse cx="449.7" cy="1332.6" rx="2.2" ry="1.5" transform="rotate(58 449.7 1332.6)" fill="#f9f9fd" opacity="0.85"/>
<ellipse cx="460.4" cy="1343.9" rx="1.5" ry="0.7" transform="rotate(90 460.4 1343.9)" fill="#f3f3f7" opacity="0.85"/>
<ellipse cx="447.5" cy="1337.5" rx="2.5" ry="1.5" transform="rotate(118 447.5 1337.5)" fill="#bdbdc1" opacity="0.85"/>
<ellipse cx="471.1" cy="1350.5" rx="1.6" ry="1.4" transform="rotate(156 471.1 1350.5)" fill="#f5f5f9" opacity="0.85"/>
<ellipse cx="456.1" cy="1366.8" rx="1.7" ry="0.7" transform="rotate(13 456.1 1366.8)" fill="#fefeff" opacity="0.85"/>
<ellipse cx="464.8" cy="1340.8" rx="1.3" ry="0.9" transform="rotate(44 464.8 1340.8)" fill="#f4f4f8" opacity="0.85"/>
<ellipse cx="471.5" cy="1357.5" rx="2.0" ry="0.8" transform="rotate(25 471.5 1357.5)" fill="#f6f6fa" opacity="0.85"/>
<ellipse cx="447.8" cy="1362.7" rx="2.5" ry="1.6" transform="rotate(90 447.8 1362.7)" fill="#bebec2" opacity="0.85"/>
<ellipse cx="443.2" cy="1352.0" rx="2.3" ry="1.0" transform="rotate(35 443.2 1352.0)" fill="#adadb1" opacity="0.85"/>
<ellipse cx="444.1" cy="1351.9" rx="1.9" ry="0.8" transform="rotate(36 444.1 1351.9)" fill="#f8f8fc" opacity="0.85"/>
<line x1="455.9" y1="1347.9" x2="453.6" y2="1350.7" stroke="#c3c3c7" stroke-width="1.8" stroke-linecap="round"/>
<line x1="450.9" y1="1361.5" x2="455.0" y2="1368.7" stroke="#cbcbcf" stroke-width="1.2" stroke-linecap="round"/>
<line x1="461.4" y1="1364.5" x2="459.3" y2="1367.5" stroke="#c0c0c4" stroke-width="1.0" stroke-linecap="round"/>
<line x1="454.2" y1="1364.5" x2="457.2" y2="1371.6" stroke="#d0d0d4" stroke-width="1.7" stroke-linecap="round"/>
<line x1="445.1" y1="1346.2" x2="440.4" y2="1347.3" stroke="#bdbdc1" stroke-width="1.1" stroke-linecap="round"/>
<line x1="449.1" y1="1346.6" x2="450.8" y2="1355.3" stroke="#d0d0d4" stroke-width="0.9" stroke-linecap="round"/>
<line x1="454.1" y1="1349.8" x2="453.4" y2="1356.2" stroke="#cacace" stroke-width="1.6" stroke-linecap="round"/>
<line x1="461.5" y1="1355.3" x2="466.9" y2="1360.6" stroke="#c0c0c4" stroke-width="1.5" stroke-linecap="round"/>
<line x1="469.5" y1="1353.3" x2="465.8" y2="1354.5" stroke="#d6d6da" stroke-width="1.3" stroke-linecap="round"/>
<line x1="452.8" y1="1339.9" x2="452.8" y2="1348.5" stroke="#bababe" stroke-width="0.9" stroke-linecap="round"/>
<line x1="455.9" y1="1334.4" x2="456.1" y2="1339.4" stroke="#b1b1b5" stroke-width="1.3" stroke-linecap="round"/>
<line x1="435.2" y1="1350.0" x2="434.8" y2="1357.1" stroke="#d1d1d5" stroke-width="1.0" stroke-linecap="round"/>
<line x1="454.2" y1="1343.7" x2="459.2" y2="1348.2" stroke="#cbcbcf" stroke-width="1.3" stroke-linecap="round"/>
<line x1="452.2" y1="1365.0" x2="457.2" y2="1370.4" stroke="#d1d1d5" stroke-width="1.0" stroke-linecap="round"/>
<polygon points="461.5,1353.8 456.4,1358.4 449.2,1358.4 444.1,1353.8 444.1,1347.3 449.2,1342.7 456.4,1342.7 461.5,1347.3" fill="#f2f2f4" fill-opacity="0.55" stroke="#cbcbd0" stroke-width="0.7"/>
<path d="M461.5,1353.9L474.4,1350.9L461.6,1347.4M456.4,1358.4L468.1,1364.2L461.5,1353.8M450.0,1358.6L454.8,1369.8L457.2,1358.0M444.0,1353.6L437.2,1364.0L449.0,1358.3M444.2,1347.0L431.2,1349.7L443.9,1353.4M449.3,1342.7L437.7,1336.7L444.1,1347.2M457.1,1343.0L454.4,1331.3L449.8,1342.5M461.3,1346.8L467.1,1336.0L455.9,1342.5" stroke="#cdcdd2" stroke-width="0.8" fill="none"/>
<ellipse cx="452.8" cy="1389.8" rx="22.5" ry="21.1" fill="url(#stg)" stroke="#c6c6cb" stroke-width="1"/>
<ellipse cx="454.4" cy="1392.0" rx="2.1" ry="1.5" transform="rotate(91 454.4 1392.0)" fill="#f6f6fa" opacity="0.85"/>
<ellipse cx="459.9" cy="1391.2" rx="2.1" ry="1.2" transform="rotate(104 459.9 1391.2)" fill="#ccccd0" opacity="0.85"/>
<ellipse cx="465.9" cy="1394.2" rx="1.7" ry="0.9" transform="rotate(112 465.9 1394.2)" fill="#fdfdff" opacity="0.85"/>
<ellipse cx="447.4" cy="1386.7" rx="1.2" ry="1.1" transform="rotate(68 447.4 1386.7)" fill="#f2f2f6" opacity="0.85"/>
<ellipse cx="443.9" cy="1376.8" rx="1.5" ry="0.8" transform="rotate(74 443.9 1376.8)" fill="#f5f5f9" opacity="0.85"/>
<ellipse cx="457.1" cy="1389.1" rx="1.0" ry="1.3" transform="rotate(108 457.1 1389.1)" fill="#fcfcff" opacity="0.85"/>
<ellipse cx="431.8" cy="1387.1" rx="1.1" ry="1.0" transform="rotate(160 431.8 1387.1)" fill="#c4c4c8" opacity="0.85"/>
<ellipse cx="448.7" cy="1402.3" rx="2.1" ry="1.6" transform="rotate(122 448.7 1402.3)" fill="#acacb0" opacity="0.85"/>
<ellipse cx="444.0" cy="1382.8" rx="1.0" ry="0.8" transform="rotate(75 444.0 1382.8)" fill="#b9b9bd" opacity="0.85"/>
<ellipse cx="445.3" cy="1408.1" rx="1.5" ry="1.2" transform="rotate(7 445.3 1408.1)" fill="#f3f3f7" opacity="0.85"/>
<ellipse cx="464.5" cy="1394.1" rx="2.5" ry="0.8" transform="rotate(159 464.5 1394.1)" fill="#fdfdff" opacity="0.85"/>
<ellipse cx="466.0" cy="1374.9" rx="1.2" ry="0.9" transform="rotate(141 466.0 1374.9)" fill="#c2c2c6" opacity="0.85"/>
<ellipse cx="459.2" cy="1403.5" rx="1.9" ry="1.4" transform="rotate(72 459.2 1403.5)" fill="#b7b7bb" opacity="0.85"/>
<ellipse cx="438.1" cy="1392.3" rx="1.2" ry="1.0" transform="rotate(155 438.1 1392.3)" fill="#f2f2f6" opacity="0.85"/>
<ellipse cx="468.7" cy="1397.2" rx="1.7" ry="1.3" transform="rotate(112 468.7 1397.2)" fill="#bbbbbf" opacity="0.85"/>
<ellipse cx="436.7" cy="1388.7" rx="1.4" ry="0.8" transform="rotate(48 436.7 1388.7)" fill="#f3f3f7" opacity="0.85"/>
<ellipse cx="464.6" cy="1385.2" rx="1.0" ry="1.6" transform="rotate(151 464.6 1385.2)" fill="#fbfbff" opacity="0.85"/>
<ellipse cx="460.4" cy="1378.4" rx="2.2" ry="1.1" transform="rotate(59 460.4 1378.4)" fill="#f6f6fa" opacity="0.85"/>
<ellipse cx="465.4" cy="1394.1" rx="1.7" ry="0.7" transform="rotate(34 465.4 1394.1)" fill="#acacb0" opacity="0.85"/>
<ellipse cx="456.3" cy="1402.3" rx="2.1" ry="0.9" transform="rotate(24 456.3 1402.3)" fill="#fbfbff" opacity="0.85"/>
<ellipse cx="450.1" cy="1373.6" rx="1.8" ry="1.0" transform="rotate(150 450.1 1373.6)" fill="#b7b7bb" opacity="0.85"/>
<ellipse cx="462.8" cy="1400.8" rx="1.4" ry="0.8" transform="rotate(53 462.8 1400.8)" fill="#b0b0b4" opacity="0.85"/>
<ellipse cx="456.0" cy="1390.6" rx="2.2" ry="1.3" transform="rotate(2 456.0 1390.6)" fill="#f9f9fd" opacity="0.85"/>
<ellipse cx="449.8" cy="1385.5" rx="2.0" ry="1.6" transform="rotate(124 449.8 1385.5)" fill="#f8f8fc" opacity="0.85"/>
<ellipse cx="459.8" cy="1382.7" rx="1.0" ry="1.1" transform="rotate(144 459.8 1382.7)" fill="#f1f1f5" opacity="0.85"/>
<ellipse cx="432.2" cy="1391.1" rx="2.5" ry="0.8" transform="rotate(40 432.2 1391.1)" fill="#bbbbbf" opacity="0.85"/>
<ellipse cx="454.3" cy="1378.0" rx="1.4" ry="1.0" transform="rotate(17 454.3 1378.0)" fill="#f8f8fc" opacity="0.85"/>
<ellipse cx="462.3" cy="1402.3" rx="2.4" ry="1.5" transform="rotate(56 462.3 1402.3)" fill="#f8f8fc" opacity="0.85"/>
<ellipse cx="467.6" cy="1403.0" rx="1.7" ry="1.2" transform="rotate(10 467.6 1403.0)" fill="#f4f4f8" opacity="0.85"/>
<ellipse cx="440.8" cy="1392.1" rx="1.4" ry="1.0" transform="rotate(6 440.8 1392.1)" fill="#ababaf" opacity="0.85"/>
<ellipse cx="447.1" cy="1407.2" rx="1.9" ry="1.6" transform="rotate(84 447.1 1407.2)" fill="#fafafe" opacity="0.85"/>
<ellipse cx="442.3" cy="1401.4" rx="0.9" ry="1.1" transform="rotate(14 442.3 1401.4)" fill="#fcfcff" opacity="0.85"/>
<ellipse cx="448.7" cy="1386.6" rx="1.5" ry="1.5" transform="rotate(158 448.7 1386.6)" fill="#c7c7cb" opacity="0.85"/>
<ellipse cx="460.5" cy="1391.6" rx="1.7" ry="0.6" transform="rotate(89 460.5 1391.6)" fill="#f4f4f8" opacity="0.85"/>
<ellipse cx="444.0" cy="1383.4" rx="0.8" ry="1.1" transform="rotate(42 444.0 1383.4)" fill="#b8b8bc" opacity="0.85"/>
<ellipse cx="444.6" cy="1395.9" rx="0.9" ry="1.4" transform="rotate(138 444.6 1395.9)" fill="#fafafe" opacity="0.85"/>
<ellipse cx="466.1" cy="1378.7" rx="2.4" ry="0.9" transform="rotate(62 466.1 1378.7)" fill="#f4f4f8" opacity="0.85"/>
<ellipse cx="449.0" cy="1373.5" rx="1.1" ry="1.2" transform="rotate(148 449.0 1373.5)" fill="#f3f3f7" opacity="0.85"/>
<ellipse cx="436.8" cy="1390.7" rx="2.0" ry="1.1" transform="rotate(66 436.8 1390.7)" fill="#bcbcc0" opacity="0.85"/>
<ellipse cx="445.0" cy="1380.2" rx="1.0" ry="0.7" transform="rotate(92 445.0 1380.2)" fill="#fefeff" opacity="0.85"/>
<ellipse cx="459.0" cy="1392.5" rx="1.7" ry="1.3" transform="rotate(153 459.0 1392.5)" fill="#f1f1f5" opacity="0.85"/>
<ellipse cx="469.1" cy="1393.8" rx="1.3" ry="1.1" transform="rotate(10 469.1 1393.8)" fill="#f7f7fb" opacity="0.85"/>
<ellipse cx="456.7" cy="1377.8" rx="2.0" ry="0.8" transform="rotate(66 456.7 1377.8)" fill="#f4f4f8" opacity="0.85"/>
<ellipse cx="458.8" cy="1382.7" rx="1.6" ry="1.3" transform="rotate(102 458.8 1382.7)" fill="#f2f2f6" opacity="0.85"/>
<ellipse cx="438.8" cy="1377.1" rx="1.9" ry="0.9" transform="rotate(36 438.8 1377.1)" fill="#f2f2f6" opacity="0.85"/>
<line x1="441.9" y1="1375.4" x2="438.6" y2="1380.2" stroke="#b7b7bb" stroke-width="1.1" stroke-linecap="round"/>
<line x1="451.5" y1="1398.8" x2="454.0" y2="1405.4" stroke="#b7b7bb" stroke-width="0.8" stroke-linecap="round"/>
<line x1="451.3" y1="1383.8" x2="453.3" y2="1386.4" stroke="#d1d1d5" stroke-width="1.8" stroke-linecap="round"/>
<line x1="460.8" y1="1396.9" x2="460.4" y2="1400.1" stroke="#cdcdd1" stroke-width="1.0" stroke-linecap="round"/>
<line x1="464.4" y1="1394.7" x2="460.6" y2="1402.1" stroke="#bdbdc1" stroke-width="1.2" stroke-linecap="round"/>
<line x1="440.4" y1="1379.2" x2="443.5" y2="1387.6" stroke="#bcbcc0" stroke-width="1.3" stroke-linecap="round"/>
<line x1="455.1" y1="1383.3" x2="458.9" y2="1384.6" stroke="#bfbfc3" stroke-width="1.7" stroke-linecap="round"/>
<line x1="446.0" y1="1392.7" x2="451.5" y2="1399.0" stroke="#d3d3d7" stroke-width="0.9" stroke-linecap="round"/>
<line x1="445.7" y1="1383.2" x2="446.0" y2="1387.5" stroke="#c6c6ca" stroke-width="1.4" stroke-linecap="round"/>
<line x1="445.9" y1="1387.3" x2="443.6" y2="1389.4" stroke="#b4b4b8" stroke-width="0.8" stroke-linecap="round"/>
<line x1="449.1" y1="1395.6" x2="441.4" y2="1395.8" stroke="#c9c9cd" stroke-width="1.3" stroke-linecap="round"/>
<line x1="438.0" y1="1398.1" x2="443.3" y2="1399.1" stroke="#d2d2d6" stroke-width="1.4" stroke-linecap="round"/>
<line x1="457.3" y1="1381.9" x2="459.8" y2="1385.1" stroke="#bebec2" stroke-width="1.8" stroke-linecap="round"/>
<line x1="436.4" y1="1395.6" x2="442.7" y2="1399.4" stroke="#b0b0b4" stroke-width="1.7" stroke-linecap="round"/>
<polygon points="461.5,1393.2 456.4,1398.1 449.2,1398.1 444.1,1393.2 444.1,1386.5 449.2,1381.6 456.4,1381.6 461.5,1386.5" fill="#f2f2f4" fill-opacity="0.55" stroke="#cbcbd0" stroke-width="0.7"/>
<path d="M461.5,1393.3L474.4,1390.0L461.6,1386.5M456.1,1398.2L467.5,1404.7L461.4,1393.5M449.6,1398.2L453.8,1410.1L456.8,1397.9M444.5,1394.0L439.0,1405.5L450.0,1398.3M444.1,1386.4L431.2,1389.6L444.0,1393.2M448.4,1382.0L436.3,1376.8L443.8,1387.2M456.4,1381.6L452.7,1369.5L449.1,1381.7M461.8,1387.1L469.2,1376.6L457.1,1381.9" stroke="#cdcdd2" stroke-width="0.8" fill="none"/>
<ellipse cx="452.8" cy="1434.8" rx="22.5" ry="25.8" fill="url(#stg)" stroke="#c6c6cb" stroke-width="1"/>
<ellipse cx="464.7" cy="1440.5" rx="2.2" ry="1.3" transform="rotate(146 464.7 1440.5)" fill="#f4f4f8" opacity="0.85"/>
<ellipse cx="437.4" cy="1447.7" rx="2.2" ry="1.5" transform="rotate(144 437.4 1447.7)" fill="#fcfcff" opacity="0.85"/>
<ellipse cx="433.3" cy="1437.3" rx="0.8" ry="1.2" transform="rotate(164 433.3 1437.3)" fill="#fefeff" opacity="0.85"/>
<ellipse cx="454.7" cy="1449.8" rx="1.5" ry="1.2" transform="rotate(146 454.7 1449.8)" fill="#bbbbbf" opacity="0.85"/>
<ellipse cx="445.9" cy="1445.0" rx="1.3" ry="0.8" transform="rotate(107 445.9 1445.0)" fill="#f5f5f9" opacity="0.85"/>
<ellipse cx="454.8" cy="1439.5" rx="1.1" ry="0.7" transform="rotate(122 454.8 1439.5)" fill="#bdbdc1" opacity="0.85"/>
<ellipse cx="460.7" cy="1446.1" rx="0.9" ry="0.7" transform="rotate(72 460.7 1446.1)" fill="#f0f0f4" opacity="0.85"/>
<ellipse cx="471.5" cy="1427.9" rx="1.4" ry="1.4" transform="rotate(158 471.5 1427.9)" fill="#f0f0f4" opacity="0.85"/>
<ellipse cx="469.3" cy="1450.1" rx="2.2" ry="1.5" transform="rotate(90 469.3 1450.1)" fill="#f3f3f7" opacity="0.85"/>
<ellipse cx="455.0" cy="1428.8" rx="2.2" ry="1.1" transform="rotate(159 455.0 1428.8)" fill="#bebec2" opacity="0.85"/>
<ellipse cx="471.0" cy="1436.1" rx="1.2" ry="1.2" transform="rotate(116 471.0 1436.1)" fill="#fefeff" opacity="0.85"/>
<ellipse cx="467.9" cy="1420.1" rx="2.5" ry="0.7" transform="rotate(174 467.9 1420.1)" fill="#f8f8fc" opacity="0.85"/>
<ellipse cx="451.5" cy="1413.7" rx="1.5" ry="0.8" transform="rotate(75 451.5 1413.7)" fill="#f7f7fb" opacity="0.85"/>
<ellipse cx="439.8" cy="1423.8" rx="1.6" ry="0.9" transform="rotate(95 439.8 1423.8)" fill="#f0f0f4" opacity="0.85"/>
<ellipse cx="457.6" cy="1436.4" rx="2.6" ry="1.3" transform="rotate(84 457.6 1436.4)" fill="#ccccd0" opacity="0.85"/>
<ellipse cx="445.7" cy="1454.1" rx="2.5" ry="1.4" transform="rotate(9 445.7 1454.1)" fill="#f6f6fa" opacity="0.85"/>
<ellipse cx="458.5" cy="1429.8" rx="2.2" ry="1.1" transform="rotate(149 458.5 1429.8)" fill="#b3b3b7" opacity="0.85"/>
<ellipse cx="458.2" cy="1434.5" rx="1.7" ry="0.9" transform="rotate(62 458.2 1434.5)" fill="#fbfbff" opacity="0.85"/>
<ellipse cx="453.5" cy="1437.6" rx="2.0" ry="0.7" transform="rotate(50 453.5 1437.6)" fill="#f7f7fb" opacity="0.85"/>
<ellipse cx="435.0" cy="1427.4" rx="1.7" ry="0.7" transform="rotate(13 435.0 1427.4)" fill="#f3f3f7" opacity="0.85"/>
<ellipse cx="467.2" cy="1417.2" rx="1.1" ry="0.9" transform="rotate(146 467.2 1417.2)" fill="#b3b3b7" opacity="0.85"/>
<ellipse cx="471.6" cy="1424.4" rx="1.1" ry="1.0" transform="rotate(21 471.6 1424.4)" fill="#bcbcc0" opacity="0.85"/>
<ellipse cx="462.6" cy="1419.1" rx="2.0" ry="1.1" transform="rotate(16 462.6 1419.1)" fill="#f1f1f5" opacity="0.85"/>
<ellipse cx="444.3" cy="1456.6" rx="1.6" ry="0.6" transform="rotate(120 444.3 1456.6)" fill="#f8f8fc" opacity="0.85"/>
<ellipse cx="446.4" cy="1446.4" rx="1.2" ry="0.8" transform="rotate(118 446.4 1446.4)" fill="#f4f4f8" opacity="0.85"/>
<ellipse cx="453.7" cy="1424.7" rx="1.0" ry="1.5" transform="rotate(23 453.7 1424.7)" fill="#f0f0f4" opacity="0.85"/>
<ellipse cx="443.0" cy="1425.4" rx="2.1" ry="1.0" transform="rotate(124 443.0 1425.4)" fill="#aeaeb2" opacity="0.85"/>
<ellipse cx="447.8" cy="1449.3" rx="2.3" ry="1.0" transform="rotate(76 447.8 1449.3)" fill="#bbbbbf" opacity="0.85"/>
<ellipse cx="438.1" cy="1439.4" rx="1.6" ry="1.1" transform="rotate(92 438.1 1439.4)" fill="#f5f5f9" opacity="0.85"/>
<ellipse cx="458.3" cy="1440.5" rx="2.0" ry="0.8" transform="rotate(14 458.3 1440.5)" fill="#fdfdff" opacity="0.85"/>
<ellipse cx="443.4" cy="1436.3" rx="0.9" ry="1.0" transform="rotate(81 443.4 1436.3)" fill="#f3f3f7" opacity="0.85"/>
<ellipse cx="450.0" cy="1450.7" rx="0.8" ry="1.2" transform="rotate(119 450.0 1450.7)" fill="#f4f4f8" opacity="0.85"/>
<ellipse cx="465.8" cy="1436.2" rx="1.6" ry="0.9" transform="rotate(45 465.8 1436.2)" fill="#fdfdff" opacity="0.85"/>
<ellipse cx="461.2" cy="1414.4" rx="1.6" ry="0.8" transform="rotate(118 461.2 1414.4)" fill="#f8f8fc" opacity="0.85"/>
<ellipse cx="453.5" cy="1431.7" rx="2.3" ry="1.5" transform="rotate(178 453.5 1431.7)" fill="#c0c0c4" opacity="0.85"/>
<ellipse cx="448.6" cy="1426.4" rx="1.4" ry="1.3" transform="rotate(84 448.6 1426.4)" fill="#b4b4b8" opacity="0.85"/>
<ellipse cx="436.2" cy="1419.9" rx="2.3" ry="1.2" transform="rotate(71 436.2 1419.9)" fill="#fcfcff" opacity="0.85"/>
<ellipse cx="446.3" cy="1411.5" rx="2.2" ry="1.5" transform="rotate(118 446.3 1411.5)" fill="#c7c7cb" opacity="0.85"/>
<ellipse cx="436.6" cy="1432.7" rx="1.5" ry="1.3" transform="rotate(26 436.6 1432.7)" fill="#fdfdff" opacity="0.85"/>
<ellipse cx="460.4" cy="1439.8" rx="2.4" ry="1.3" transform="rotate(142 460.4 1439.8)" fill="#f9f9fd" opacity="0.85"/>
<ellipse cx="467.2" cy="1431.6" rx="0.8" ry="1.5" transform="rotate(84 467.2 1431.6)" fill="#f6f6fa" opacity="0.85"/>
<ellipse cx="471.8" cy="1426.8" rx="1.8" ry="1.6" transform="rotate(74 471.8 1426.8)" fill="#c0c0c4" opacity="0.85"/>
<ellipse cx="453.9" cy="1427.3" rx="1.8" ry="0.7" transform="rotate(22 453.9 1427.3)" fill="#f9f9fd" opacity="0.85"/>
<ellipse cx="465.8" cy="1444.0" rx="1.5" ry="0.7" transform="rotate(44 465.8 1444.0)" fill="#b9b9bd" opacity="0.85"/>
<ellipse cx="455.7" cy="1450.9" rx="2.4" ry="1.4" transform="rotate(25 455.7 1450.9)" fill="#f7f7fb" opacity="0.85"/>
<line x1="445.5" y1="1434.6" x2="451.0" y2="1437.9" stroke="#d6d6da" stroke-width="1.4" stroke-linecap="round"/>
<line x1="465.1" y1="1418.5" x2="470.6" y2="1418.7" stroke="#b8b8bc" stroke-width="1.6" stroke-linecap="round"/>
<line x1="465.5" y1="1446.7" x2="468.7" y2="1450.9" stroke="#d6d6da" stroke-width="0.8" stroke-linecap="round"/>
<line x1="460.9" y1="1442.4" x2="457.0" y2="1450.3" stroke="#b1b1b5" stroke-width="1.2" stroke-linecap="round"/>
<line x1="450.1" y1="1444.4" x2="447.1" y2="1449.9" stroke="#c9c9cd" stroke-width="1.1" stroke-linecap="round"/>
<line x1="437.4" y1="1436.0" x2="429.2" y2="1437.4" stroke="#d3d3d7" stroke-width="1.8" stroke-linecap="round"/>
<line x1="458.1" y1="1431.7" x2="462.7" y2="1436.8" stroke="#d5d5d9" stroke-width="1.1" stroke-linecap="round"/>
<line x1="444.3" y1="1445.3" x2="446.9" y2="1450.6" stroke="#cacace" stroke-width="1.1" stroke-linecap="round"/>
<line x1="460.7" y1="1442.9" x2="466.1" y2="1446.0" stroke="#c7c7cb" stroke-width="1.3" stroke-linecap="round"/>
<line x1="445.5" y1="1440.8" x2="446.9" y2="1444.1" stroke="#c3c3c7" stroke-width="1.2" stroke-linecap="round"/>
<line x1="465.9" y1="1430.0" x2="461.8" y2="1434.5" stroke="#c6c6ca" stroke-width="1.2" stroke-linecap="round"/>
<line x1="454.4" y1="1434.4" x2="447.9" y2="1435.2" stroke="#c6c6ca" stroke-width="1.8" stroke-linecap="round"/>
<line x1="446.7" y1="1415.9" x2="443.6" y2="1418.8" stroke="#b2b2b6" stroke-width="1.1" stroke-linecap="round"/>
<line x1="439.1" y1="1435.0" x2="446.5" y2="1436.2" stroke="#b4b4b8" stroke-width="1.0" stroke-linecap="round"/>
<polygon points="461.5,1438.9 456.4,1444.7 449.2,1444.7 444.1,1438.9 444.1,1430.6 449.2,1424.8 456.4,1424.8 461.5,1430.6" fill="#f2f2f4" fill-opacity="0.55" stroke="#cbcbd0" stroke-width="0.7"/>
<path d="M461.5,1439.1L474.4,1435.2L461.6,1430.8M455.9,1445.0L467.1,1453.3L461.3,1439.5M448.4,1444.3L450.9,1459.4L455.6,1445.1M444.0,1438.6L437.1,1451.7L448.9,1444.6M444.0,1430.9L431.2,1435.4L444.2,1439.1M448.5,1425.1L436.3,1418.8L443.8,1431.4M456.5,1424.8L453.1,1410.0L449.3,1424.7M461.2,1429.8L466.8,1415.9L455.7,1424.5" stroke="#cdcdd2" stroke-width="0.8" fill="none"/>
<ellipse cx="452.8" cy="1484.5" rx="22.5" ry="26.0" fill="url(#stg)" stroke="#c6c6cb" stroke-width="1"/>
<ellipse cx="444.7" cy="1491.5" rx="2.3" ry="1.4" transform="rotate(57 444.7 1491.5)" fill="#acacb0" opacity="0.85"/>
<ellipse cx="449.6" cy="1479.9" rx="1.0" ry="0.7" transform="rotate(71 449.6 1479.9)" fill="#f0f0f4" opacity="0.85"/>
<ellipse cx="443.1" cy="1502.1" rx="1.8" ry="0.6" transform="rotate(135 443.1 1502.1)" fill="#fafafe" opacity="0.85"/>
<ellipse cx="451.7" cy="1468.6" rx="0.9" ry="1.4" transform="rotate(165 451.7 1468.6)" fill="#fefeff" opacity="0.85"/>
<ellipse cx="435.5" cy="1492.3" rx="2.2" ry="1.0" transform="rotate(122 435.5 1492.3)" fill="#c6c6ca" opacity="0.85"/>
<ellipse cx="467.4" cy="1471.8" rx="2.3" ry="1.3" transform="rotate(64 467.4 1471.8)" fill="#fdfdff" opacity="0.85"/>
<ellipse cx="448.9" cy="1469.6" rx="2.5" ry="0.8" transform="rotate(101 448.9 1469.6)" fill="#fafafe" opacity="0.85"/>
<ellipse cx="439.3" cy="1493.7" rx="1.3" ry="1.0" transform="rotate(28 439.3 1493.7)" fill="#f1f1f5" opacity="0.85"/>
<ellipse cx="469.2" cy="1470.1" rx="2.0" ry="1.0" transform="rotate(89 469.2 1470.1)" fill="#c9c9cd" opacity="0.85"/>
<ellipse cx="454.0" cy="1476.6" rx="1.4" ry="0.6" transform="rotate(139 454.0 1476.6)" fill="#f2f2f6" opacity="0.85"/>
<ellipse cx="460.5" cy="1466.6" rx="1.6" ry="1.2" transform="rotate(123 460.5 1466.6)" fill="#cbcbcf" opacity="0.85"/>
<ellipse cx="434.6" cy="1489.5" rx="2.1" ry="0.8" transform="rotate(59 434.6 1489.5)" fill="#c3c3c7" opacity="0.85"/>
<ellipse cx="451.5" cy="1505.5" rx="2.2" ry="0.9" transform="rotate(166 451.5 1505.5)" fill="#f4f4f8" opacity="0.85"/>
<ellipse cx="453.2" cy="1495.8" rx="2.6" ry="1.5" transform="rotate(101 453.2 1495.8)" fill="#f1f1f5" opacity="0.85"/>
<ellipse cx="438.5" cy="1489.2" rx="1.7" ry="0.8" transform="rotate(122 438.5 1489.2)" fill="#b0b0b4" opacity="0.85"/>
<ellipse cx="465.5" cy="1483.8" rx="1.1" ry="1.6" transform="rotate(60 465.5 1483.8)" fill="#c9c9cd" opacity="0.85"/>
<ellipse cx="454.6" cy="1462.4" rx="1.2" ry="1.1" transform="rotate(39 454.6 1462.4)" fill="#b3b3b7" opacity="0.85"/>
<ellipse cx="447.1" cy="1479.0" rx="2.6" ry="1.0" transform="rotate(30 447.1 1479.0)" fill="#f9f9fd" opacity="0.85"/>
<ellipse cx="449.6" cy="1491.7" rx="2.3" ry="1.3" transform="rotate(52 449.6 1491.7)" fill="#fcfcff" opacity="0.85"/>
<ellipse cx="451.8" cy="1496.7" rx="2.0" ry="0.9" transform="rotate(160 451.8 1496.7)" fill="#ccccd0" opacity="0.85"/>
<ellipse cx="442.6" cy="1479.7" rx="1.3" ry="1.1" transform="rotate(51 442.6 1479.7)" fill="#ababaf" opacity="0.85"/>
<ellipse cx="458.8" cy="1477.4" rx="1.0" ry="1.4" transform="rotate(24 458.8 1477.4)" fill="#fdfdff" opacity="0.85"/>
<ellipse cx="462.4" cy="1502.7" rx="1.3" ry="0.7" transform="rotate(140 462.4 1502.7)" fill="#f9f9fd" opacity="0.85"/>
<ellipse cx="464.7" cy="1478.7" rx="2.0" ry="0.9" transform="rotate(87 464.7 1478.7)" fill="#f3f3f7" opacity="0.85"/>
<ellipse cx="456.4" cy="1503.7" rx="0.9" ry="1.1" transform="rotate(159 456.4 1503.7)" fill="#c0c0c4" opacity="0.85"/>
<ellipse cx="434.5" cy="1473.7" rx="1.0" ry="1.2" transform="rotate(162 434.5 1473.7)" fill="#f4f4f8" opacity="0.85"/>
<ellipse cx="468.3" cy="1501.2" rx="2.0" ry="0.7" transform="rotate(11 468.3 1501.2)" fill="#b3b3b7" opacity="0.85"/>
<ellipse cx="468.7" cy="1487.9" rx="2.6" ry="1.5" transform="rotate(175 468.7 1487.9)" fill="#fafafe" opacity="0.85"/>
<ellipse cx="439.2" cy="1480.2" rx="1.4" ry="1.1" transform="rotate(95 439.2 1480.2)" fill="#f1f1f5" opacity="0.85"/>
<ellipse cx="458.6" cy="1504.0" rx="2.0" ry="0.6" transform="rotate(35 458.6 1504.0)" fill="#f7f7fb" opacity="0.85"/>
<ellipse cx="471.6" cy="1475.8" rx="1.2" ry="0.9" transform="rotate(46 471.6 1475.8)" fill="#bdbdc1" opacity="0.85"/>
<ellipse cx="462.0" cy="1499.2" rx="2.5" ry="0.6" transform="rotate(155 462.0 1499.2)" fill="#f2f2f6" opacity="0.85"/>
<ellipse cx="436.4" cy="1485.7" rx="1.4" ry="0.8" transform="rotate(162 436.4 1485.7)" fill="#f9f9fd" opacity="0.85"/>
<ellipse cx="453.8" cy="1474.7" rx="2.4" ry="1.6" transform="rotate(20 453.8 1474.7)" fill="#f1f1f5" opacity="0.85"/>
<ellipse cx="456.6" cy="1485.1" rx="2.3" ry="1.4" transform="rotate(109 456.6 1485.1)" fill="#fbfbff" opacity="0.85"/>
<ellipse cx="449.9" cy="1478.2" rx="2.3" ry="1.0" transform="rotate(176 449.9 1478.2)" fill="#b7b7bb" opacity="0.85"/>
<ellipse cx="446.4" cy="1496.9" rx="1.9" ry="1.1" transform="rotate(47 446.4 1496.9)" fill="#b9b9bd" opacity="0.85"/>
<ellipse cx="443.8" cy="1501.9" rx="1.5" ry="0.8" transform="rotate(168 443.8 1501.9)" fill="#f3f3f7" opacity="0.85"/>
<ellipse cx="456.2" cy="1500.5" rx="2.0" ry="1.2" transform="rotate(33 456.2 1500.5)" fill="#bfbfc3" opacity="0.85"/>
<ellipse cx="439.4" cy="1473.9" rx="1.2" ry="0.9" transform="rotate(33 439.4 1473.9)" fill="#f0f0f4" opacity="0.85"/>
<ellipse cx="444.1" cy="1502.9" rx="1.0" ry="1.3" transform="rotate(45 444.1 1502.9)" fill="#fcfcff" opacity="0.85"/>
<ellipse cx="438.6" cy="1484.1" rx="1.5" ry="1.0" transform="rotate(178 438.6 1484.1)" fill="#cdcdd1" opacity="0.85"/>
<ellipse cx="470.8" cy="1471.4" rx="2.0" ry="0.8" transform="rotate(75 470.8 1471.4)" fill="#b2b2b6" opacity="0.85"/>
<ellipse cx="462.5" cy="1483.9" rx="2.1" ry="1.1" transform="rotate(107 462.5 1483.9)" fill="#f8f8fc" opacity="0.85"/>
<ellipse cx="453.8" cy="1481.8" rx="1.6" ry="0.8" transform="rotate(172 453.8 1481.8)" fill="#f6f6fa" opacity="0.85"/>
<line x1="459.8" y1="1488.1" x2="464.3" y2="1492.0" stroke="#c3c3c7" stroke-width="1.1" stroke-linecap="round"/>
<line x1="459.3" y1="1480.9" x2="452.1" y2="1482.2" stroke="#bbbbbf" stroke-width="1.0" stroke-linecap="round"/>
<line x1="450.0" y1="1474.2" x2="442.4" y2="1477.1" stroke="#ccccd0" stroke-width="1.2" stroke-linecap="round"/>
<line x1="450.1" y1="1463.5" x2="446.6" y2="1465.0" stroke="#bababe" stroke-width="1.5" stroke-linecap="round"/>
<line x1="449.8" y1="1477.5" x2="448.5" y2="1482.3" stroke="#c0c0c4" stroke-width="1.3" stroke-linecap="round"/>
<line x1="438.8" y1="1480.3" x2="438.2" y2="1487.8" stroke="#b4b4b8" stroke-width="0.9" stroke-linecap="round"/>
<line x1="453.7" y1="1490.5" x2="450.1" y2="1493.8" stroke="#cfcfd3" stroke-width="1.0" stroke-linecap="round"/>
<line x1="467.7" y1="1480.6" x2="467.9" y2="1484.2" stroke="#d5d5d9" stroke-width="1.3" stroke-linecap="round"/>
<line x1="438.8" y1="1472.2" x2="443.6" y2="1475.5" stroke="#cdcdd1" stroke-width="1.8" stroke-linecap="round"/>
<line x1="469.3" y1="1487.4" x2="474.6" y2="1488.3" stroke="#b9b9bd" stroke-width="0.8" stroke-linecap="round"/>
<line x1="438.7" y1="1496.1" x2="447.4" y2="1496.8" stroke="#cacace" stroke-width="1.6" stroke-linecap="round"/>
<line x1="437.3" y1="1484.5" x2="442.2" y2="1487.7" stroke="#afafb3" stroke-width="1.0" stroke-linecap="round"/>
<line x1="463.7" y1="1482.2" x2="462.2" y2="1490.1" stroke="#cdcdd1" stroke-width="1.1" stroke-linecap="round"/>
<line x1="452.5" y1="1475.5" x2="451.5" y2="1479.2" stroke="#d6d6da" stroke-width="1.2" stroke-linecap="round"/>
<polygon points="461.5,1488.6 456.4,1494.5 449.2,1494.5 444.1,1488.6 444.1,1480.3 449.2,1474.4 456.4,1474.4 461.5,1480.3" fill="#f2f2f4" fill-opacity="0.55" stroke="#cbcbd0" stroke-width="0.7"/>
<path d="M461.5,1488.7L474.4,1484.6L461.6,1480.4M456.5,1494.5L468.2,1501.9L461.6,1488.5M449.5,1494.7L453.5,1509.3L456.7,1494.4M443.8,1487.8L436.3,1500.5L448.5,1494.1M443.9,1480.8L431.2,1485.8L444.3,1489.2M450.0,1474.1L438.9,1465.4L444.4,1479.4M457.0,1474.7L454.3,1459.6L449.8,1474.1M461.8,1481.1L469.2,1468.2L457.1,1474.7" stroke="#cdcdd2" stroke-width="0.8" fill="none"/>
<ellipse cx="452.8" cy="1529.1" rx="22.5" ry="20.6" fill="url(#stg)" stroke="#c6c6cb" stroke-width="1"/>
<ellipse cx="460.8" cy="1541.0" rx="2.5" ry="0.9" transform="rotate(138 460.8 1541.0)" fill="#f4f4f8" opacity="0.85"/>
<ellipse cx="440.0" cy="1524.8" rx="1.0" ry="1.3" transform="rotate(51 440.0 1524.8)" fill="#f5f5f9" opacity="0.85"/>
<ellipse cx="443.6" cy="1541.1" rx="2.0" ry="1.3" transform="rotate(144 443.6 1541.1)" fill="#fefeff" opacity="0.85"/>
<ellipse cx="445.7" cy="1518.4" rx="1.6" ry="0.7" transform="rotate(114 445.7 1518.4)" fill="#fdfdff" opacity="0.85"/>
<ellipse cx="438.0" cy="1529.3" rx="1.6" ry="0.7" transform="rotate(50 438.0 1529.3)" fill="#f0f0f4" opacity="0.85"/>
<ellipse cx="456.0" cy="1520.0" rx="1.2" ry="1.2" transform="rotate(8 456.0 1520.0)" fill="#fcfcff" opacity="0.85"/>
<ellipse cx="463.0" cy="1536.0" rx="1.7" ry="0.9" transform="rotate(88 463.0 1536.0)" fill="#aeaeb2" opacity="0.85"/>
<ellipse cx="461.0" cy="1517.4" rx="2.0" ry="1.0" transform="rotate(116 461.0 1517.4)" fill="#b6b6ba" opacity="0.85"/>
<ellipse cx="447.5" cy="1544.3" rx="2.1" ry="1.4" transform="rotate(144 447.5 1544.3)" fill="#b9b9bd" opacity="0.85"/>
<ellipse cx="455.6" cy="1521.2" rx="0.9" ry="1.4" transform="rotate(129 455.6 1521.2)" fill="#f4f4f8" opacity="0.85"/>
<ellipse cx="469.5" cy="1524.7" rx="2.4" ry="1.5" transform="rotate(110 469.5 1524.7)" fill="#fafafe" opacity="0.85"/>
<ellipse cx="449.5" cy="1525.1" rx="1.3" ry="1.0" transform="rotate(47 449.5 1525.1)" fill="#f1f1f5" opacity="0.85"/>
<ellipse cx="452.4" cy="1544.4" rx="1.9" ry="0.7" transform="rotate(177 452.4 1544.4)" fill="#f4f4f8" opacity="0.85"/>
<ellipse cx="452.0" cy="1524.4" rx="2.2" ry="0.6" transform="rotate(71 452.0 1524.4)" fill="#fcfcff" opacity="0.85"/>
<ellipse cx="451.4" cy="1542.8" rx="1.4" ry="0.6" transform="rotate(69 451.4 1542.8)" fill="#f3f3f7" opacity="0.85"/>
<ellipse cx="462.9" cy="1543.9" rx="1.7" ry="0.9" transform="rotate(125 462.9 1543.9)" fill="#b1b1b5" opacity="0.85"/>
<ellipse cx="451.5" cy="1537.5" rx="1.0" ry="0.9" transform="rotate(139 451.5 1537.5)" fill="#fafafe" opacity="0.85"/>
<ellipse cx="456.1" cy="1530.1" rx="2.5" ry="1.4" transform="rotate(111 456.1 1530.1)" fill="#f9f9fd" opacity="0.85"/>
<ellipse cx="447.2" cy="1538.0" rx="1.0" ry="1.3" transform="rotate(12 447.2 1538.0)" fill="#f7f7fb" opacity="0.85"/>
<ellipse cx="470.5" cy="1534.3" rx="1.8" ry="0.8" transform="rotate(36 470.5 1534.3)" fill="#f4f4f8" opacity="0.85"/>
<ellipse cx="450.2" cy="1533.6" rx="2.3" ry="1.5" transform="rotate(53 450.2 1533.6)" fill="#c0c0c4" opacity="0.85"/>
<ellipse cx="443.1" cy="1527.3" rx="2.5" ry="0.7" transform="rotate(85 443.1 1527.3)" fill="#fcfcff" opacity="0.85"/>
<ellipse cx="436.6" cy="1535.7" rx="2.5" ry="1.1" transform="rotate(146 436.6 1535.7)" fill="#f8f8fc" opacity="0.85"/>
<ellipse cx="468.3" cy="1524.2" rx="1.1" ry="1.4" transform="rotate(95 468.3 1524.2)" fill="#f0f0f4" opacity="0.85"/>
<ellipse cx="460.6" cy="1531.7" rx="1.9" ry="1.5" transform="rotate(142 460.6 1531.7)" fill="#f4f4f8" opacity="0.85"/>
<ellipse cx="450.6" cy="1546.5" rx="1.6" ry="0.7" transform="rotate(82 450.6 1546.5)" fill="#adadb1" opacity="0.85"/>
<ellipse cx="432.2" cy="1532.1" rx="0.8" ry="1.1" transform="rotate(99 432.2 1532.1)" fill="#f0f0f4" opacity="0.85"/>
<ellipse cx="437.9" cy="1517.0" rx="2.1" ry="1.0" transform="rotate(103 437.9 1517.0)" fill="#f7f7fb" opacity="0.85"/>
<ellipse cx="442.4" cy="1516.0" rx="1.8" ry="0.8" transform="rotate(16 442.4 1516.0)" fill="#f0f0f4" opacity="0.85"/>
<ellipse cx="440.5" cy="1523.7" rx="1.9" ry="0.8" transform="rotate(131 440.5 1523.7)" fill="#c3c3c7" opacity="0.85"/>
<ellipse cx="453.4" cy="1545.9" rx="2.6" ry="0.7" transform="rotate(57 453.4 1545.9)" fill="#fdfdff" opacity="0.85"/>
<ellipse cx="449.4" cy="1537.7" rx="2.1" ry="1.5" transform="rotate(104 449.4 1537.7)" fill="#f8f8fc" opacity="0.85"/>
<ellipse cx="454.2" cy="1532.4" rx="1.5" ry="1.0" transform="rotate(81 454.2 1532.4)" fill="#bbbbbf" opacity="0.85"/>
<ellipse cx="441.3" cy="1532.3" rx="1.9" ry="0.7" transform="rotate(157 441.3 1532.3)" fill="#f6f6fa" opacity="0.85"/>
<ellipse cx="451.2" cy="1513.6" rx="2.4" ry="1.6" transform="rotate(68 451.2 1513.6)" fill="#fafafe" opacity="0.85"/>
<ellipse cx="455.8" cy="1516.9" rx="1.2" ry="1.2" transform="rotate(41 455.8 1516.9)" fill="#fbfbff" opacity="0.85"/>
<ellipse cx="435.4" cy="1517.7" rx="1.2" ry="1.4" transform="rotate(118 435.4 1517.7)" fill="#f3f3f7" opacity="0.85"/>
<ellipse cx="432.3" cy="1524.3" rx="1.5" ry="1.4" transform="rotate(3 432.3 1524.3)" fill="#c3c3c7" opacity="0.85"/>
<ellipse cx="451.8" cy="1544.4" rx="2.5" ry="1.3" transform="rotate(54 451.8 1544.4)" fill="#c3c3c7" opacity="0.85"/>
<ellipse cx="439.0" cy="1534.7" rx="1.5" ry="1.2" transform="rotate(151 439.0 1534.7)" fill="#b7b7bb" opacity="0.85"/>
<ellipse cx="448.4" cy="1512.4" rx="1.3" ry="1.3" transform="rotate(86 448.4 1512.4)" fill="#f9f9fd" opacity="0.85"/>
<ellipse cx="445.7" cy="1533.3" rx="1.7" ry="0.6" transform="rotate(146 445.7 1533.3)" fill="#bebec2" opacity="0.85"/>
<ellipse cx="453.3" cy="1517.6" rx="1.9" ry="1.5" transform="rotate(30 453.3 1517.6)" fill="#f5f5f9" opacity="0.85"/>
<ellipse cx="446.8" cy="1520.0" rx="1.0" ry="0.6" transform="rotate(122 446.8 1520.0)" fill="#f6f6fa" opacity="0.85"/>
<ellipse cx="437.3" cy="1532.4" rx="1.4" ry="1.4" transform="rotate(172 437.3 1532.4)" fill="#f0f0f4" opacity="0.85"/>
<line x1="462.1" y1="1533.4" x2="458.1" y2="1539.3" stroke="#bcbcc0" stroke-width="1.2" stroke-linecap="round"/>
<line x1="451.1" y1="1539.4" x2="457.3" y2="1539.9" stroke="#c6c6ca" stroke-width="1.2" stroke-linecap="round"/>
<line x1="438.8" y1="1537.8" x2="432.9" y2="1541.2" stroke="#d6d6da" stroke-width="1.0" stroke-linecap="round"/>
<line x1="455.7" y1="1534.5" x2="452.9" y2="1536.6" stroke="#bbbbbf" stroke-width="1.1" stroke-linecap="round"/>
<line x1="436.9" y1="1530.1" x2="434.2" y2="1531.8" stroke="#c4c4c8" stroke-width="1.0" stroke-linecap="round"/>
<line x1="448.2" y1="1515.0" x2="443.5" y2="1516.9" stroke="#bcbcc0" stroke-width="1.6" stroke-linecap="round"/>
<line x1="451.8" y1="1526.3" x2="445.2" y2="1531.5" stroke="#c1c1c5" stroke-width="1.4" stroke-linecap="round"/>
<line x1="461.8" y1="1528.4" x2="460.2" y2="1532.4" stroke="#b8b8bc" stroke-width="1.4" stroke-linecap="round"/>
<line x1="467.8" y1="1521.7" x2="474.9" y2="1526.1" stroke="#bababe" stroke-width="1.7" stroke-linecap="round"/>
<line x1="449.3" y1="1522.5" x2="446.2" y2="1526.6" stroke="#bcbcc0" stroke-width="1.6" stroke-linecap="round"/>
<line x1="445.4" y1="1543.8" x2="451.2" y2="1544.9" stroke="#ceced2" stroke-width="1.5" stroke-linecap="round"/>
<line x1="468.1" y1="1533.3" x2="465.1" y2="1534.9" stroke="#d1d1d5" stroke-width="1.7" stroke-linecap="round"/>
<line x1="463.6" y1="1530.6" x2="458.8" y2="1535.0" stroke="#ceced2" stroke-width="1.4" stroke-linecap="round"/>
<line x1="455.9" y1="1525.7" x2="459.5" y2="1525.9" stroke="#d6d6da" stroke-width="1.0" stroke-linecap="round"/>
<polygon points="461.5,1532.4 456.4,1537.1 449.2,1537.1 444.1,1532.4 444.1,1525.7 449.2,1521.0 456.4,1521.0 461.5,1525.7" fill="#f2f2f4" fill-opacity="0.55" stroke="#cbcbd0" stroke-width="0.7"/>
<path d="M461.7,1532.0L474.4,1528.1L461.4,1525.4M456.1,1537.2L467.6,1543.5L461.4,1532.6M448.8,1536.9L452.0,1548.9L456.1,1537.2M444.2,1532.7L438.1,1543.6L449.5,1537.2M444.0,1525.8L431.2,1529.2L444.1,1532.4M448.8,1521.2L436.9,1515.6L443.9,1526.1M456.5,1521.1L453.1,1509.2L449.3,1521.0M461.4,1525.5L467.6,1514.6L456.2,1520.9" stroke="#cdcdd2" stroke-width="0.8" fill="none"/>
<ellipse cx="452.8" cy="1569.3" rx="22.5" ry="21.6" fill="url(#stg)" stroke="#c6c6cb" stroke-width="1"/>
<ellipse cx="446.0" cy="1577.3" rx="1.5" ry="1.0" transform="rotate(3 446.0 1577.3)" fill="#bababe" opacity="0.85"/>
<ellipse cx="457.0" cy="1576.9" rx="1.7" ry="0.9" transform="rotate(84 457.0 1576.9)" fill="#b0b0b4" opacity="0.85"/>
<ellipse cx="466.9" cy="1557.7" rx="2.1" ry="0.8" transform="rotate(80 466.9 1557.7)" fill="#fafafe" opacity="0.85"/>
<ellipse cx="458.0" cy="1558.0" rx="1.8" ry="1.4" transform="rotate(95 458.0 1558.0)" fill="#c6c6ca" opacity="0.85"/>
<ellipse cx="460.7" cy="1563.3" rx="2.0" ry="0.6" transform="rotate(70 460.7 1563.3)" fill="#bdbdc1" opacity="0.85"/>
<ellipse cx="437.9" cy="1573.4" rx="2.0" ry="1.3" transform="rotate(123 437.9 1573.4)" fill="#cdcdd1" opacity="0.85"/>
<ellipse cx="439.9" cy="1573.0" rx="2.0" ry="1.5" transform="rotate(104 439.9 1573.0)" fill="#fefeff" opacity="0.85"/>
<ellipse cx="455.2" cy="1575.7" rx="1.7" ry="0.9" transform="rotate(98 455.2 1575.7)" fill="#f5f5f9" opacity="0.85"/>
<ellipse cx="462.7" cy="1558.1" rx="1.0" ry="1.5" transform="rotate(96 462.7 1558.1)" fill="#f1f1f5" opacity="0.85"/>
<ellipse cx="458.2" cy="1552.8" rx="2.5" ry="1.0" transform="rotate(101 458.2 1552.8)" fill="#f7f7fb" opacity="0.85"/>
<ellipse cx="454.1" cy="1553.6" rx="2.1" ry="0.8" transform="rotate(12 454.1 1553.6)" fill="#f2f2f6" opacity="0.85"/>
<ellipse cx="432.1" cy="1569.4" rx="1.8" ry="1.2" transform="rotate(61 432.1 1569.4)" fill="#fcfcff" opacity="0.85"/>
<ellipse cx="462.8" cy="1570.4" rx="1.2" ry="0.9" transform="rotate(109 462.8 1570.4)" fill="#f3f3f7" opacity="0.85"/>
<ellipse cx="461.7" cy="1586.8" rx="1.1" ry="1.4" transform="rotate(33 461.7 1586.8)" fill="#fafafe" opacity="0.85"/>
<ellipse cx="454.2" cy="1577.6" rx="1.9" ry="1.3" transform="rotate(142 454.2 1577.6)" fill="#b2b2b6" opacity="0.85"/>
<ellipse cx="465.8" cy="1558.5" rx="2.3" ry="0.8" transform="rotate(47 465.8 1558.5)" fill="#fcfcff" opacity="0.85"/>
<ellipse cx="441.7" cy="1557.2" rx="1.3" ry="1.5" transform="rotate(156 441.7 1557.2)" fill="#f0f0f4" opacity="0.85"/>
<ellipse cx="445.4" cy="1558.7" rx="2.5" ry="0.8" transform="rotate(89 445.4 1558.7)" fill="#f6f6fa" opacity="0.85"/>
<ellipse cx="449.1" cy="1588.7" rx="2.1" ry="1.0" transform="rotate(45 449.1 1588.7)" fill="#f1f1f5" opacity="0.85"/>
<ellipse cx="468.8" cy="1562.8" rx="1.4" ry="0.6" transform="rotate(168 468.8 1562.8)" fill="#c2c2c6" opacity="0.85"/>
<ellipse cx="438.9" cy="1577.8" rx="0.9" ry="1.6" transform="rotate(9 438.9 1577.8)" fill="#bababe" opacity="0.85"/>
<ellipse cx="444.3" cy="1577.9" rx="0.8" ry="1.3" transform="rotate(37 444.3 1577.9)" fill="#b5b5b9" opacity="0.85"/>
<ellipse cx="442.4" cy="1556.5" rx="0.9" ry="1.5" transform="rotate(130 442.4 1556.5)" fill="#f7f7fb" opacity="0.85"/>
<ellipse cx="461.9" cy="1571.2" rx="1.5" ry="0.8" transform="rotate(78 461.9 1571.2)" fill="#fdfdff" opacity="0.85"/>
<ellipse cx="439.7" cy="1583.9" rx="1.1" ry="0.6" transform="rotate(27 439.7 1583.9)" fill="#aeaeb2" opacity="0.85"/>
<ellipse cx="472.5" cy="1572.8" rx="1.0" ry="0.9" transform="rotate(128 472.5 1572.8)" fill="#afafb3" opacity="0.85"/>
<ellipse cx="471.9" cy="1568.0" rx="1.1" ry="0.7" transform="rotate(52 471.9 1568.0)" fill="#f3f3f7" opacity="0.85"/>
<ellipse cx="458.0" cy="1585.0" rx="2.2" ry="1.0" transform="rotate(149 458.0 1585.0)" fill="#b4b4b8" opacity="0.85"/>
<ellipse cx="439.5" cy="1581.7" rx="0.9" ry="1.2" transform="rotate(85 439.5 1581.7)" fill="#aaaaae" opacity="0.85"/>
<ellipse cx="457.1" cy="1580.5" rx="1.3" ry="1.3" transform="rotate(52 457.1 1580.5)" fill="#c3c3c7" opacity="0.85"/>
<ellipse cx="463.0" cy="1584.9" rx="2.4" ry="0.6" transform="rotate(127 463.0 1584.9)" fill="#fefeff" opacity="0.85"/>
<ellipse cx="450.3" cy="1580.2" rx="2.1" ry="1.2" transform="rotate(18 450.3 1580.2)" fill="#fcfcff" opacity="0.85"/>
<ellipse cx="439.0" cy="1555.6" rx="2.6" ry="1.3" transform="rotate(20 439.0 1555.6)" fill="#bababe" opacity="0.85"/>
<ellipse cx="461.4" cy="1560.1" rx="1.8" ry="1.5" transform="rotate(162 461.4 1560.1)" fill="#f9f9fd" opacity="0.85"/>
<ellipse cx="472.4" cy="1569.2" rx="1.5" ry="1.2" transform="rotate(26 472.4 1569.2)" fill="#f9f9fd" opacity="0.85"/>
<ellipse cx="465.6" cy="1582.7" rx="2.5" ry="1.0" transform="rotate(38 465.6 1582.7)" fill="#bbbbbf" opacity="0.85"/>
<ellipse cx="450.8" cy="1586.1" rx="1.5" ry="1.3" transform="rotate(47 450.8 1586.1)" fill="#f0f0f4" opacity="0.85"/>
<ellipse cx="460.1" cy="1587.0" rx="2.1" ry="0.7" transform="rotate(109 460.1 1587.0)" fill="#cdcdd1" opacity="0.85"/>
<ellipse cx="446.3" cy="1554.3" rx="1.9" ry="0.7" transform="rotate(178 446.3 1554.3)" fill="#f7f7fb" opacity="0.85"/>
<ellipse cx="450.6" cy="1559.7" rx="1.7" ry="1.3" transform="rotate(83 450.6 1559.7)" fill="#fbfbff" opacity="0.85"/>
<ellipse cx="451.0" cy="1584.7" rx="1.9" ry="1.5" transform="rotate(97 451.0 1584.7)" fill="#c7c7cb" opacity="0.85"/>
<ellipse cx="441.1" cy="1552.7" rx="1.6" ry="1.4" transform="rotate(123 441.1 1552.7)" fill="#b4b4b8" opacity="0.85"/>
<ellipse cx="443.7" cy="1566.8" rx="0.9" ry="0.7" transform="rotate(174 443.7 1566.8)" fill="#f5f5f9" opacity="0.85"/>
<ellipse cx="466.9" cy="1572.5" rx="1.6" ry="1.4" transform="rotate(46 466.9 1572.5)" fill="#fafafe" opacity="0.85"/>
<ellipse cx="457.6" cy="1567.6" rx="0.9" ry="0.8" transform="rotate(41 457.6 1567.6)" fill="#f7f7fb" opacity="0.85"/>
<line x1="465.6" y1="1574.6" x2="464.4" y2="1578.2" stroke="#c5c5c9" stroke-width="1.7" stroke-linecap="round"/>
<line x1="442.0" y1="1580.0" x2="443.3" y2="1585.1" stroke="#d7d7db" stroke-width="1.4" stroke-linecap="round"/>
<line x1="463.1" y1="1557.9" x2="468.6" y2="1564.8" stroke="#c1c1c5" stroke-width="1.4" stroke-linecap="round"/>
<line x1="450.9" y1="1569.7" x2="454.8" y2="1574.0" stroke="#d5d5d9" stroke-width="1.7" stroke-linecap="round"/>
<line x1="458.3" y1="1577.3" x2="460.9" y2="1582.9" stroke="#c6c6ca" stroke-width="1.5" stroke-linecap="round"/>
<line x1="469.8" y1="1568.4" x2="470.5" y2="1573.1" stroke="#cfcfd3" stroke-width="1.2" stroke-linecap="round"/>
<line x1="449.3" y1="1587.1" x2="442.4" y2="1588.6" stroke="#cdcdd1" stroke-width="1.7" stroke-linecap="round"/>
<line x1="458.5" y1="1572.4" x2="457.8" y2="1579.6" stroke="#b8b8bc" stroke-width="1.2" stroke-linecap="round"/>
<line x1="447.4" y1="1566.9" x2="451.3" y2="1568.9" stroke="#c1c1c5" stroke-width="1.1" stroke-linecap="round"/>
<line x1="439.2" y1="1581.1" x2="446.6" y2="1581.1" stroke="#b9b9bd" stroke-width="1.3" stroke-linecap="round"/>
<line x1="457.6" y1="1574.4" x2="451.7" y2="1580.3" stroke="#b3b3b7" stroke-width="1.4" stroke-linecap="round"/>
<line x1="459.0" y1="1578.1" x2="454.9" y2="1578.4" stroke="#c1c1c5" stroke-width="1.7" stroke-linecap="round"/>
<line x1="449.1" y1="1575.4" x2="456.3" y2="1577.9" stroke="#b1b1b5" stroke-width="1.8" stroke-linecap="round"/>
<line x1="446.8" y1="1579.5" x2="440.5" y2="1585.3" stroke="#b1b1b5" stroke-width="1.7" stroke-linecap="round"/>
<polygon points="461.5,1572.8 456.4,1577.8 449.2,1577.8 444.1,1572.8 444.1,1565.9 449.2,1560.9 456.4,1560.9 461.5,1565.9" fill="#f2f2f4" fill-opacity="0.55" stroke="#cbcbd0" stroke-width="0.7"/>
<path d="M461.7,1572.3L474.4,1568.0L461.3,1565.3M456.4,1577.7L468.1,1584.0L461.5,1572.8M449.5,1577.9L453.6,1590.1L456.8,1577.6M444.1,1573.0L437.8,1584.3L449.3,1577.8M444.3,1565.4L431.2,1568.2L443.9,1572.4M450.0,1560.7L439.0,1553.4L444.4,1565.1M456.3,1560.9L452.5,1548.6L449.0,1561.0M461.3,1565.3L467.0,1553.7L455.8,1560.7" stroke="#cdcdd2" stroke-width="0.8" fill="none"/>
<path d="M427.5,1294.0 Q434.5,1290.5 442.5,1294.0 Q434.5,1297.5 427.5,1294.0Z" fill="#c4c4ca"/>
<path d="M478.0,1294.0 Q471.0,1290.5 463.0,1294.0 Q471.0,1297.5 478.0,1294.0Z" fill="#c4c4ca"/>
<path d="M427.5,1331.4 Q434.5,1327.9 442.5,1331.4 Q434.5,1334.9 427.5,1331.4Z" fill="#c4c4ca"/>
<path d="M478.0,1331.4 Q471.0,1327.9 463.0,1331.4 Q471.0,1334.9 478.0,1331.4Z" fill="#c4c4ca"/>
<path d="M427.5,1369.7 Q434.5,1366.2 442.5,1369.7 Q434.5,1373.2 427.5,1369.7Z" fill="#c4c4ca"/>
<path d="M478.0,1369.7 Q471.0,1366.2 463.0,1369.7 Q471.0,1373.2 478.0,1369.7Z" fill="#c4c4ca"/>
<path d="M427.5,1410.0 Q434.5,1406.5 442.5,1410.0 Q434.5,1413.5 427.5,1410.0Z" fill="#c4c4ca"/>
<path d="M478.0,1410.0 Q471.0,1406.5 463.0,1410.0 Q471.0,1413.5 478.0,1410.0Z" fill="#c4c4ca"/>
<path d="M427.5,1459.5 Q434.5,1456.0 442.5,1459.5 Q434.5,1463.0 427.5,1459.5Z" fill="#c4c4ca"/>
<path d="M478.0,1459.5 Q471.0,1456.0 463.0,1459.5 Q471.0,1463.0 478.0,1459.5Z" fill="#c4c4ca"/>
<path d="M427.5,1509.4 Q434.5,1505.9 442.5,1509.4 Q434.5,1512.9 427.5,1509.4Z" fill="#c4c4ca"/>
<path d="M478.0,1509.4 Q471.0,1505.9 463.0,1509.4 Q471.0,1512.9 478.0,1509.4Z" fill="#c4c4ca"/>
<path d="M427.5,1548.7 Q434.5,1545.2 442.5,1548.7 Q434.5,1552.2 427.5,1548.7Z" fill="#c4c4ca"/>
<path d="M478.0,1548.7 Q471.0,1545.2 463.0,1548.7 Q471.0,1552.2 478.0,1548.7Z" fill="#c4c4ca"/>
<rect x="425.5" y="1240.0" width="54.5" height="12" fill="url(#capg)"/>
<rect x="427.5" y="1251.5" width="50.5" height="3" fill="#f3f3f5"/>
<rect x="425.5" y="1590" width="54.5" height="6" fill="#d2d2d7"/>
</g>
<rect x="425.5" y="1240.0" width="54.5" height="356.0" rx="8" fill="none" stroke="#c0c0c5" stroke-width="1.2"/>
<ellipse cx="472.5" cy="1330.5" rx="2.6" ry="1.8" fill="#5e5e66" opacity="0.85"/>
<ellipse cx="471.5" cy="1371" rx="2.4" ry="2" fill="#5e5e66" opacity="0.85"/>
<ellipse cx="470.9" cy="1467.1" rx="2" ry="2.2" fill="#5e5e66" opacity="0.85"/>
<ellipse cx="441.4" cy="1550.5" rx="2.5" ry="1.5" fill="#5e5e66" opacity="0.85"/>
</svg>
</body></html>
